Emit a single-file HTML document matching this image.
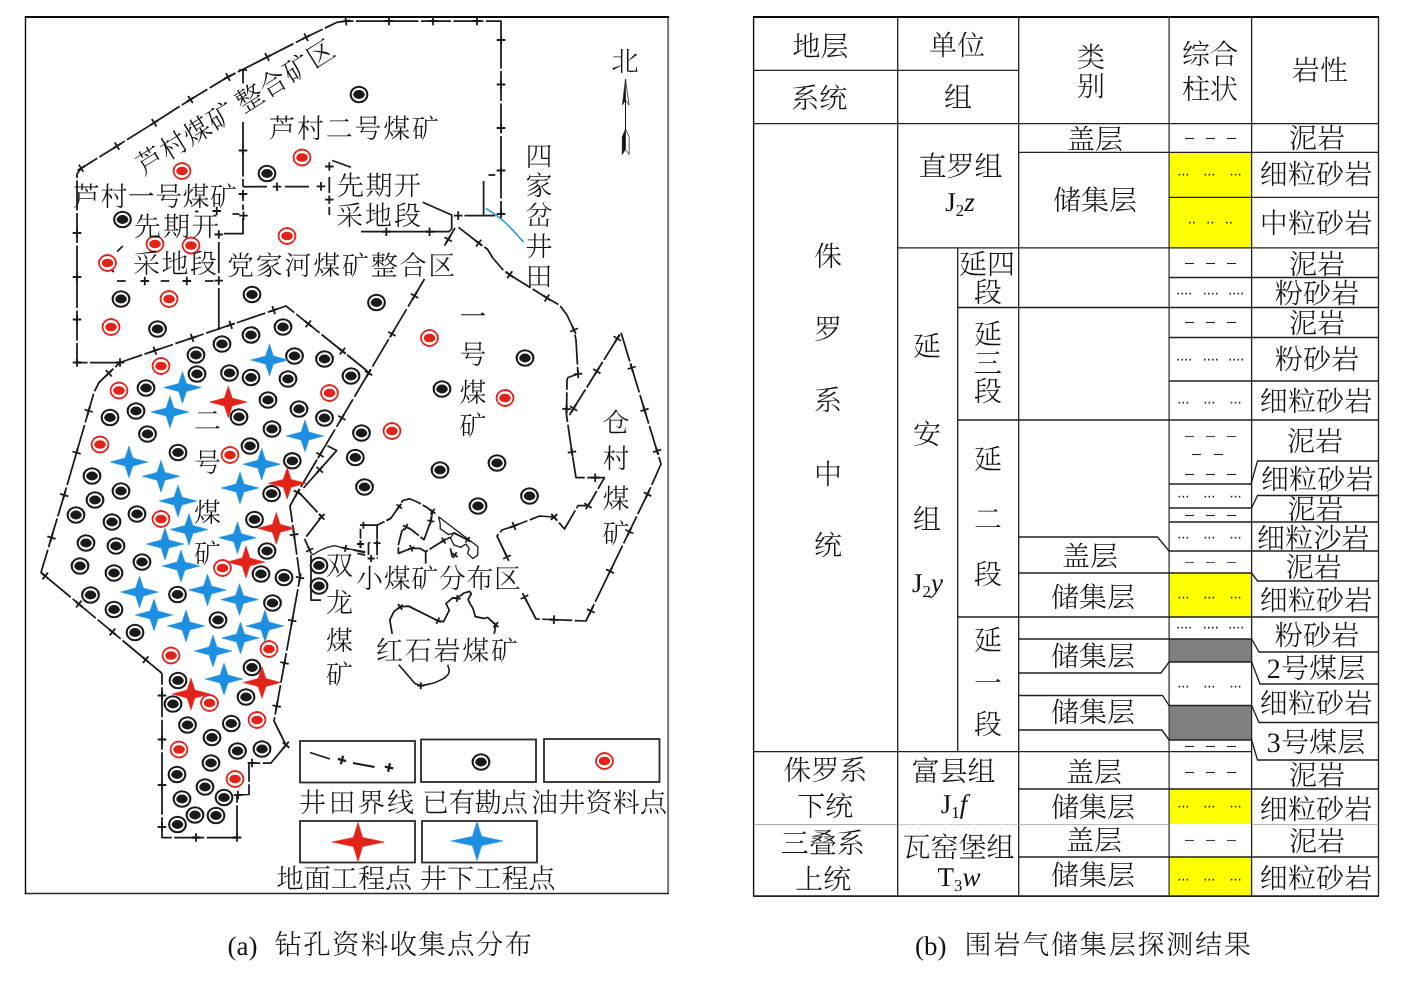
<!DOCTYPE html>
<html><head><meta charset="utf-8"><title>fig</title>
<style>
html,body{margin:0;padding:0;background:#fff;}
svg{display:block;will-change:transform;}
text{font-family:"Liberation Serif","Noto Serif CJK SC",serif;fill:#111;font-weight:300;text-rendering:geometricPrecision;}
</style></head><body>
<svg width="1406" height="981" viewBox="0 0 1406 981">
<rect width="1406" height="981" fill="#fff"/>
<path d="M668.1 16 L668.1 894.2" fill="none" stroke="#777" stroke-width="2"/>
<path d="M24.8 893.5 L669.1 893.5" fill="none" stroke="#2a2a2a" stroke-width="1.5"/>
<path d="M25.5 894.2 L25.5 16" fill="none" stroke="#0a0a0a" stroke-width="1.4"/>
<path d="M24.8 17 L669.1 17" fill="none" stroke="#0a0a0a" stroke-width="2.2"/>
<path d="M120.0 362.5 L77.0 362.5 L77.0 174.0 L81.0 168.4 L117.2 145.9 L154.1 122.8 L190.6 99.4 L227.7 77.1 L266.8 57.2 L306.0 37.3 L337.0 22.3 L346.0 21.0 L501.0 21.0 L501.0 215.0" fill="none" stroke="#1a1a1a" stroke-width="1.75" stroke-dasharray="30 2.5" stroke-linejoin="round" />
<path d="M120.0 366.8 L120.0 358.2 M124.3 362.5 L115.7 362.5" stroke="#1a1a1a" stroke-width="1.8" fill="none"/>
<path d="M77.0 366.8 L77.0 358.2 M81.3 362.5 L72.7 362.5" stroke="#1a1a1a" stroke-width="1.8" fill="none"/>
<path d="M72.7 319.5 L81.3 319.5 M77.0 323.8 L77.0 315.2" stroke="#1a1a1a" stroke-width="1.8" fill="none"/>
<path d="M72.7 277.0 L81.3 277.0 M77.0 281.3 L77.0 272.7" stroke="#1a1a1a" stroke-width="1.8" fill="none"/>
<path d="M72.7 233.0 L81.3 233.0 M77.0 237.3 L77.0 228.7" stroke="#1a1a1a" stroke-width="1.8" fill="none"/>
<path d="M78.9 164.6 L83.4 171.9 M77.5 170.6 L84.8 166.0" stroke="#1a1a1a" stroke-width="1.8" fill="none"/>
<path d="M114.7 142.4 L119.3 149.7 M113.4 148.3 L120.7 143.7" stroke="#1a1a1a" stroke-width="1.8" fill="none"/>
<path d="M151.8 119.1 L156.5 126.4 M150.5 125.1 L157.8 120.4" stroke="#1a1a1a" stroke-width="1.8" fill="none"/>
<path d="M188.1 95.9 L192.8 103.1 M186.8 101.8 L194.1 97.2" stroke="#1a1a1a" stroke-width="1.8" fill="none"/>
<path d="M226.0 73.1 L229.9 80.8 M224.1 78.9 L231.8 75.0" stroke="#1a1a1a" stroke-width="1.8" fill="none"/>
<path d="M265.1 53.2 L269.0 60.9 M263.2 59.0 L270.9 55.1" stroke="#1a1a1a" stroke-width="1.8" fill="none"/>
<path d="M304.2 33.4 L308.0 41.1 M302.2 39.1 L310.0 35.4" stroke="#1a1a1a" stroke-width="1.8" fill="none"/>
<path d="M345.3 16.8 L346.5 25.3 M341.7 21.6 L350.2 20.4" stroke="#1a1a1a" stroke-width="1.8" fill="none"/>
<path d="M389.0 16.7 L389.0 25.3 M384.7 21.0 L393.3 21.0" stroke="#1a1a1a" stroke-width="1.8" fill="none"/>
<path d="M433.0 16.7 L433.0 25.3 M428.7 21.0 L437.3 21.0" stroke="#1a1a1a" stroke-width="1.8" fill="none"/>
<path d="M477.0 16.7 L477.0 25.3 M472.7 21.0 L481.3 21.0" stroke="#1a1a1a" stroke-width="1.8" fill="none"/>
<path d="M505.3 40.0 L496.7 40.0 M501.0 35.7 L501.0 44.3" stroke="#1a1a1a" stroke-width="1.8" fill="none"/>
<path d="M505.3 84.5 L496.7 84.5 M501.0 80.2 L501.0 88.8" stroke="#1a1a1a" stroke-width="1.8" fill="none"/>
<path d="M505.3 128.0 L496.7 128.0 M501.0 123.7 L501.0 132.3" stroke="#1a1a1a" stroke-width="1.8" fill="none"/>
<path d="M505.3 170.5 L496.7 170.5 M501.0 166.2 L501.0 174.8" stroke="#1a1a1a" stroke-width="1.8" fill="none"/>
<path d="M505.3 214.0 L496.7 214.0 M501.0 209.7 L501.0 218.3" stroke="#1a1a1a" stroke-width="1.8" fill="none"/>
<path d="M243.0 70.0 L243.0 83.5" fill="none" stroke="#1a1a1a" stroke-width="1.75" stroke-linejoin="round" />
<path d="M243.0 122.0 L243.0 186.7" fill="none" stroke="#1a1a1a" stroke-width="1.75" stroke-dasharray="26 2.5" stroke-linejoin="round" />
<path d="M239.0 70.0 L247.0 70.0" fill="none" stroke="#1a1a1a" stroke-width="1.75" stroke-linejoin="round" />
<path d="M243.0 191.0 L243.0 201.0" fill="none" stroke="#1a1a1a" stroke-width="1.75" stroke-linejoin="round" />
<path d="M243.0 204.5 L243.0 210.0" fill="none" stroke="#1a1a1a" stroke-width="1.75" stroke-linejoin="round" />
<path d="M243.0 218.0 L243.0 233.6 L224.0 233.6" fill="none" stroke="#1a1a1a" stroke-width="1.75" stroke-linejoin="round" />
<path d="M243.0 146.2 L243.0 154.8 M238.7 150.5 L247.3 150.5" stroke="#1a1a1a" stroke-width="1.8" fill="none"/>
<path d="M243.0 189.7 L243.0 198.3 M238.7 194.0 L247.3 194.0" stroke="#1a1a1a" stroke-width="1.8" fill="none"/>
<path d="M243.5 211.4 L243.5 220.0 M239.2 215.7 L247.8 215.7" stroke="#1a1a1a" stroke-width="1.8" fill="none"/>
<path d="M243.0 186.7 L325.0 186.7" fill="none" stroke="#1a1a1a" stroke-width="1.75" stroke-dasharray="24 18" stroke-linejoin="round" />
<path d="M277.0 182.4 L277.0 191.0 M272.7 186.7 L281.3 186.7" stroke="#1a1a1a" stroke-width="1.8" fill="none"/>
<path d="M321.0 182.1 L321.0 190.7 M316.7 186.4 L325.3 186.4" stroke="#1a1a1a" stroke-width="1.8" fill="none"/>
<path d="M232.4 214.0 L239.5 214.0" fill="none" stroke="#1a1a1a" stroke-width="1.75" stroke-linejoin="round" />
<path d="M195.0 211.5 L198.5 211.5" fill="none" stroke="#1a1a1a" stroke-width="1.75" stroke-linejoin="round" />
<path d="M216.7 206.7 L216.7 215.3 M212.4 211.0 L221.0 211.0" stroke="#1a1a1a" stroke-width="1.8" fill="none"/>
<path d="M218.8 242.0 L218.8 273.0" fill="none" stroke="#1a1a1a" stroke-width="1.75" stroke-linejoin="round" />
<path d="M218.8 288.0 L218.8 330.0" fill="none" stroke="#1a1a1a" stroke-width="1.75" stroke-linejoin="round" />
<path d="M218.8 230.2 L218.8 238.8 M214.5 234.5 L223.1 234.5" stroke="#1a1a1a" stroke-width="1.8" fill="none"/>
<path d="M218.8 276.3 L218.8 284.9 M214.5 280.6 L223.1 280.6" stroke="#1a1a1a" stroke-width="1.8" fill="none"/>
<path d="M117.0 281.0 L125.7 281.0" fill="none" stroke="#1a1a1a" stroke-width="1.75" stroke-linejoin="round" />
<path d="M160.7 281.0 L169.3 281.0" fill="none" stroke="#1a1a1a" stroke-width="1.75" stroke-linejoin="round" />
<path d="M205.0 281.0 L213.6 281.0" fill="none" stroke="#1a1a1a" stroke-width="1.75" stroke-linejoin="round" />
<path d="M144.8 276.7 L144.8 285.3 M140.5 281.0 L149.1 281.0" stroke="#1a1a1a" stroke-width="1.8" fill="none"/>
<path d="M186.8 276.7 L186.8 285.3 M182.5 281.0 L191.1 281.0" stroke="#1a1a1a" stroke-width="1.8" fill="none"/>
<path d="M117.2 251.6 L122.8 246.0" fill="none" stroke="#1a1a1a" stroke-width="1.75" stroke-linejoin="round" />
<path d="M111.2 269.5 L113.8 272.0" fill="none" stroke="#1a1a1a" stroke-width="1.75" stroke-linejoin="round" />
<path d="M329.3 177.0 L329.3 193.0" fill="none" stroke="#1a1a1a" stroke-width="1.75" stroke-linejoin="round" />
<path d="M329.3 207.0 L329.3 215.0" fill="none" stroke="#1a1a1a" stroke-width="1.75" stroke-linejoin="round" />
<path d="M329.3 162.2 L329.3 170.8 M325.0 166.5 L333.6 166.5" stroke="#1a1a1a" stroke-width="1.8" fill="none"/>
<path d="M329.3 195.4 L329.3 204.0 M325.0 199.7 L333.6 199.7" stroke="#1a1a1a" stroke-width="1.8" fill="none"/>
<path d="M332.2 160.5 L351.0 167.3" fill="none" stroke="#1a1a1a" stroke-width="1.75" stroke-linejoin="round" />
<path d="M422.7 202.3 L451.7 215.0 L451.7 229.0 L449.0 231.7 L361.0 231.7" fill="none" stroke="#1a1a1a" stroke-width="1.75" stroke-linejoin="round" />
<path d="M386.3 227.4 L386.3 236.0 M382.0 231.7 L390.6 231.7" stroke="#1a1a1a" stroke-width="1.8" fill="none"/>
<path d="M429.5 227.4 L429.5 236.0 M425.2 231.7 L433.8 231.7" stroke="#1a1a1a" stroke-width="1.8" fill="none"/>
<path d="M464.5 215.6 L495.2 215.6" fill="none" stroke="#1a1a1a" stroke-width="1.75" stroke-linejoin="round" />
<path d="M458.2 211.3 L458.2 219.9 M453.9 215.6 L462.5 215.6" stroke="#1a1a1a" stroke-width="1.8" fill="none"/>
<path d="M483.6 181.0 L483.6 215.6" fill="none" stroke="#1a1a1a" stroke-width="1.75" stroke-linejoin="round" />
<path d="M488.4 175.0 L495.2 175.0" fill="none" stroke="#1a1a1a" stroke-width="1.75" stroke-linejoin="round" />
<path d="M485.8 208.3 Q497 215 504.6 222 T523.4 242" fill="none" stroke="#1c8fe0" stroke-width="1.4"/>
<path d="M458.5 227.4 L479.0 243.3 L487.5 249.3 L492.7 257.8 L502.9 269.7 L510.0 274.9 L547.0 298.0 L559.5 305.0 L567.0 315.0 L574.0 330.0 L576.0 340.0 L578.0 374.0 L568.0 377.5 L567.0 380.0 L566.5 415.0 L572.0 452.5 L576.0 477.7 L604.4 477.7 L591.0 501.0 L588.0 505.6 L578.0 505.6 L564.5 529.0 L554.0 517.0 L539.5 516.0 L514.0 526.0 L502.0 530.0 L497.0 536.0 L507.0 557.0" fill="none" stroke="#1a1a1a" stroke-width="1.75" stroke-dasharray="30 2.5" stroke-linejoin="round" />
<path d="M481.3 239.7 L476.0 246.5 M475.3 240.4 L482.1 245.7" stroke="#1a1a1a" stroke-width="1.8" fill="none"/>
<path d="M512.3 271.2 L507.2 278.2 M506.3 272.2 L513.2 277.2" stroke="#1a1a1a" stroke-width="1.8" fill="none"/>
<path d="M549.3 294.4 L544.7 301.6 M543.4 295.7 L550.6 300.3" stroke="#1a1a1a" stroke-width="1.8" fill="none"/>
<path d="M577.9 328.2 L570.1 331.8 M572.2 326.1 L575.8 333.9" stroke="#1a1a1a" stroke-width="1.8" fill="none"/>
<path d="M582.3 373.7 L573.7 374.3 M577.7 369.7 L578.3 378.3" stroke="#1a1a1a" stroke-width="1.8" fill="none"/>
<path d="M570.9 409.1 L562.3 408.9 M566.6 404.7 L566.5 413.3" stroke="#1a1a1a" stroke-width="1.8" fill="none"/>
<path d="M576.2 451.4 L567.7 452.6 M571.3 447.8 L572.6 456.3" stroke="#1a1a1a" stroke-width="1.8" fill="none"/>
<path d="M595.2 473.4 L595.2 482.0 M590.9 477.7 L599.5 477.7" stroke="#1a1a1a" stroke-width="1.8" fill="none"/>
<path d="M591.6 507.9 L584.4 503.3 M590.3 502.0 L585.7 509.2" stroke="#1a1a1a" stroke-width="1.8" fill="none"/>
<path d="M550.8 519.8 L557.2 514.2 M556.8 520.2 L551.2 513.8" stroke="#1a1a1a" stroke-width="1.8" fill="none"/>
<path d="M515.6 530.0 L512.4 522.0 M518.0 524.4 L510.0 527.6" stroke="#1a1a1a" stroke-width="1.8" fill="none"/>
<path d="M510.9 555.2 L503.1 558.8 M505.2 553.1 L508.8 560.9" stroke="#1a1a1a" stroke-width="1.8" fill="none"/>
<path d="M455.0 228.0 L444.5 245.6" fill="none" stroke="#1a1a1a" stroke-width="1.75" stroke-linejoin="round" />
<path d="M424.5 279.0 L297.5 492.5" fill="none" stroke="#1a1a1a" stroke-width="1.75" stroke-dasharray="32 3" stroke-linejoin="round" />
<path d="M451.9 241.6 L444.5 237.2 M450.4 235.7 L446.0 243.1" stroke="#1a1a1a" stroke-width="1.8" fill="none"/>
<path d="M418.3 298.1 L410.9 293.7 M416.8 292.2 L412.4 299.6" stroke="#1a1a1a" stroke-width="1.8" fill="none"/>
<path d="M395.6 336.1 L388.3 331.7 M394.2 330.2 L389.8 337.6" stroke="#1a1a1a" stroke-width="1.8" fill="none"/>
<path d="M372.3 375.3 L364.9 370.9 M370.8 369.5 L366.4 376.8" stroke="#1a1a1a" stroke-width="1.8" fill="none"/>
<path d="M345.6 420.1 L338.2 415.7 M344.1 414.2 L339.7 421.6" stroke="#1a1a1a" stroke-width="1.8" fill="none"/>
<path d="M327.4 445.7 L336.6 450.6 L303.5 488.0" fill="none" stroke="#1a1a1a" stroke-width="1.75" stroke-linejoin="round" />
<path d="M323.7 456.9 L316.3 452.5 M322.2 451.0 L317.8 458.4" stroke="#1a1a1a" stroke-width="1.8" fill="none"/>
<path d="M322.9 472.6 L316.5 466.9 M322.5 466.5 L316.8 472.9" stroke="#1a1a1a" stroke-width="1.8" fill="none"/>
<path d="M370.0 374.0 L366.0 370.0 L286.0 306.0 L120.0 362.5 L99.0 382.5 L94.0 392.5 L66.0 489.0 L41.0 572.5 L161.0 672.5 L162.0 674.0 L162.0 837.5 L237.0 837.5 L237.0 795.0 L249.0 794.5 L249.0 763.0 L271.0 763.0 L286.0 745.0 L281.0 735.0 L274.0 721.0 L300.0 577.5 L290.0 506.0 L297.5 492.5" fill="none" stroke="#1a1a1a" stroke-width="1.75" stroke-dasharray="30 2.5" stroke-linejoin="round" />
<path d="M275.1 314.3 L272.3 306.1 M277.8 308.8 L269.7 311.6" stroke="#1a1a1a" stroke-width="1.8" fill="none"/>
<path d="M232.1 328.9 L229.4 320.7 M234.8 323.4 L226.7 326.2" stroke="#1a1a1a" stroke-width="1.8" fill="none"/>
<path d="M193.5 342.0 L190.8 333.9 M196.2 336.6 L188.1 339.3" stroke="#1a1a1a" stroke-width="1.8" fill="none"/>
<path d="M156.3 354.7 L153.5 346.6 M158.9 349.2 L150.8 352.0" stroke="#1a1a1a" stroke-width="1.8" fill="none"/>
<path d="M111.7 376.3 L105.8 370.1 M111.9 370.2 L105.7 376.2" stroke="#1a1a1a" stroke-width="1.8" fill="none"/>
<path d="M92.8 412.0 L84.6 409.6 M89.9 406.6 L87.5 414.9" stroke="#1a1a1a" stroke-width="1.8" fill="none"/>
<path d="M80.7 453.9 L72.4 451.5 M77.7 448.5 L75.3 456.8" stroke="#1a1a1a" stroke-width="1.8" fill="none"/>
<path d="M68.3 496.3 L60.1 493.8 M65.4 490.9 L63.0 499.2" stroke="#1a1a1a" stroke-width="1.8" fill="none"/>
<path d="M55.6 538.9 L47.3 536.4 M52.7 533.5 L50.2 541.8" stroke="#1a1a1a" stroke-width="1.8" fill="none"/>
<path d="M48.0 572.7 L42.5 579.3 M41.9 573.3 L48.5 578.8" stroke="#1a1a1a" stroke-width="1.8" fill="none"/>
<path d="M81.6 600.7 L76.1 607.3 M75.5 601.3 L82.1 606.8" stroke="#1a1a1a" stroke-width="1.8" fill="none"/>
<path d="M115.2 628.7 L109.7 635.3 M109.1 629.3 L115.7 634.8" stroke="#1a1a1a" stroke-width="1.8" fill="none"/>
<path d="M148.4 656.4 L142.9 663.0 M142.4 657.0 L149.0 662.5" stroke="#1a1a1a" stroke-width="1.8" fill="none"/>
<path d="M166.3 695.5 L157.7 695.5 M162.0 691.2 L162.0 699.8" stroke="#1a1a1a" stroke-width="1.8" fill="none"/>
<path d="M166.3 739.5 L157.7 739.5 M162.0 735.2 L162.0 743.8" stroke="#1a1a1a" stroke-width="1.8" fill="none"/>
<path d="M166.3 785.0 L157.7 785.0 M162.0 780.7 L162.0 789.3" stroke="#1a1a1a" stroke-width="1.8" fill="none"/>
<path d="M166.3 827.0 L157.7 827.0 M162.0 822.7 L162.0 831.3" stroke="#1a1a1a" stroke-width="1.8" fill="none"/>
<path d="M196.0 833.2 L196.0 841.8 M191.7 837.5 L200.3 837.5" stroke="#1a1a1a" stroke-width="1.8" fill="none"/>
<path d="M237.0 833.2 L237.0 841.8 M232.7 837.5 L241.3 837.5" stroke="#1a1a1a" stroke-width="1.8" fill="none"/>
<path d="M237.8 790.7 L238.2 799.3 M233.7 795.1 L242.3 794.8" stroke="#1a1a1a" stroke-width="1.8" fill="none"/>
<path d="M252.0 758.7 L252.0 767.3 M247.7 763.0 L256.3 763.0" stroke="#1a1a1a" stroke-width="1.8" fill="none"/>
<path d="M282.7 742.2 L289.3 747.8 M283.2 748.3 L288.8 741.7" stroke="#1a1a1a" stroke-width="1.8" fill="none"/>
<path d="M272.5 705.4 L280.9 706.9 M275.9 710.4 L277.5 701.9" stroke="#1a1a1a" stroke-width="1.8" fill="none"/>
<path d="M280.3 662.2 L288.7 663.8 M283.7 667.2 L285.3 658.8" stroke="#1a1a1a" stroke-width="1.8" fill="none"/>
<path d="M288.0 619.8 L296.4 621.3 M291.4 624.8 L293.0 616.3" stroke="#1a1a1a" stroke-width="1.8" fill="none"/>
<path d="M295.8 576.8 L304.2 578.4 M299.2 581.8 L300.8 573.4" stroke="#1a1a1a" stroke-width="1.8" fill="none"/>
<path d="M289.7 535.2 L298.3 534.0 M294.6 538.8 L293.4 530.3" stroke="#1a1a1a" stroke-width="1.8" fill="none"/>
<path d="M293.7 490.4 L301.3 494.6 M295.4 496.3 L299.6 488.7" stroke="#1a1a1a" stroke-width="1.8" fill="none"/>
<path d="M305.6 327.2 L311.0 320.5 M311.7 326.5 L305.0 321.2" stroke="#1a1a1a" stroke-width="1.8" fill="none"/>
<path d="M339.7 354.5 L345.1 347.8 M345.8 353.8 L339.0 348.4" stroke="#1a1a1a" stroke-width="1.8" fill="none"/>
<path d="M298.5 491.9 L321.6 516.7 L304.5 538.9 L309.6 550.0" fill="none" stroke="#1a1a1a" stroke-width="1.75" stroke-dasharray="28 3" stroke-linejoin="round" />
<path d="M324.5 514.0 L318.7 519.4 M318.9 513.8 L324.3 519.6" stroke="#1a1a1a" stroke-width="1.8" fill="none"/>
<path d="M313.3 548.3 L306.0 551.7 M308.0 546.4 L311.3 553.6" stroke="#1a1a1a" stroke-width="1.8" fill="none"/>
<path d="M311.0 555.0 L311.0 600.0 L321.0 600.0" fill="none" stroke="#1a1a1a" stroke-width="1.75" stroke-linejoin="round" />
<path d="M311.3 554.3 L313.9 554.3 Q324.1 547.4 334.4 545.7 L345.5 548.3 L365.1 551.7" fill="none" stroke="#1a1a1a" stroke-width="1.3"/>
<path d="M346.2 544.9 L344.8 551.7 M342.0 547.6 L348.9 549.0" stroke="#1a1a1a" stroke-width="1.8" fill="none"/>
<path d="M569.5 415.0 L621.0 332.5 L661.0 464.0 L649.5 490.0 L586.0 621.0 L536.0 619.0 L524.5 597.0" fill="none" stroke="#1a1a1a" stroke-width="1.75" stroke-dasharray="30 2.5" stroke-linejoin="round" />
<path d="M613.6 336.2 L620.9 340.8 M615.0 342.1 L619.5 334.8" stroke="#1a1a1a" stroke-width="1.8" fill="none"/>
<path d="M593.2 368.9 L600.5 373.5 M594.6 374.9 L599.1 367.6" stroke="#1a1a1a" stroke-width="1.8" fill="none"/>
<path d="M569.9 406.2 L577.2 410.7 M571.3 412.1 L575.9 404.8" stroke="#1a1a1a" stroke-width="1.8" fill="none"/>
<path d="M635.8 366.5 L627.6 369.0 M630.5 363.6 L633.0 371.9" stroke="#1a1a1a" stroke-width="1.8" fill="none"/>
<path d="M648.7 408.7 L640.5 411.2 M643.3 405.9 L645.8 414.1" stroke="#1a1a1a" stroke-width="1.8" fill="none"/>
<path d="M661.2 449.7 L652.9 452.2 M655.8 446.9 L658.3 455.1" stroke="#1a1a1a" stroke-width="1.8" fill="none"/>
<path d="M651.3 496.1 L643.6 492.3 M649.3 490.4 L645.6 498.1" stroke="#1a1a1a" stroke-width="1.8" fill="none"/>
<path d="M633.2 533.5 L625.4 529.8 M631.2 527.8 L627.4 535.5" stroke="#1a1a1a" stroke-width="1.8" fill="none"/>
<path d="M614.0 573.2 L606.2 569.4 M612.0 567.4 L608.2 575.2" stroke="#1a1a1a" stroke-width="1.8" fill="none"/>
<path d="M594.7 612.8 L587.0 609.1 M592.8 607.1 L589.0 614.8" stroke="#1a1a1a" stroke-width="1.8" fill="none"/>
<path d="M553.8 624.0 L554.2 615.4 M558.3 619.9 L549.7 619.5" stroke="#1a1a1a" stroke-width="1.8" fill="none"/>
<path d="M520.7 599.0 L528.3 595.0 M526.5 600.8 L522.5 593.2" stroke="#1a1a1a" stroke-width="1.8" fill="none"/>
<path d="M363.4 525.2 L377.1 525.2 L390.7 518.4 L396.7 509.9 L399.3 506.5 L402.7 500.5 L409.5 498.8 L418.0 502.2 L426.6 507.3 L432.5 511.6 L430.8 521.0 L424.0 539.7 L411.2 529.5 L406.1 526.9" fill="none" stroke="#1a1a1a" stroke-width="1.75" stroke-dasharray="22 2" stroke-linejoin="round" />
<path d="M363.4 521.7 L363.4 528.7 M359.9 525.2 L366.9 525.2" stroke="#1a1a1a" stroke-width="1.8" fill="none"/>
<path d="M396.5 504.4 L402.1 508.6 M397.2 509.3 L401.4 503.7" stroke="#1a1a1a" stroke-width="1.8" fill="none"/>
<path d="M434.6 508.7 L430.5 514.4 M429.7 509.5 L435.4 513.6" stroke="#1a1a1a" stroke-width="1.8" fill="none"/>
<path d="M434.3 521.6 L427.4 520.3 M431.5 517.5 L430.2 524.4" stroke="#1a1a1a" stroke-width="1.8" fill="none"/>
<path d="M404.5 530.1 L407.6 523.8 M409.2 528.5 L403.0 525.4" stroke="#1a1a1a" stroke-width="1.8" fill="none"/>
<path d="M404.4 528.7 L401.8 531.2 L398.4 544.9 L398.4 553.4 L411.2 548.3 L419.7 548.3 L425.7 551.7 L443.6 540.6 L450.5 537.2" fill="none" stroke="#1a1a1a" stroke-width="1.75" stroke-dasharray="18 2" stroke-linejoin="round" />
<path d="M409.9 545.0 L412.5 551.5 M408.0 549.6 L414.5 547.0" stroke="#1a1a1a" stroke-width="1.8" fill="none"/>
<path d="M441.8 537.6 L445.5 543.6 M440.7 542.4 L446.6 538.8" stroke="#1a1a1a" stroke-width="1.8" fill="none"/>
<path d="M425.7 551.7 L425.7 563.6" fill="none" stroke="#1a1a1a" stroke-width="1.75" stroke-linejoin="round" />
<path d="M360.5 528.7 L360.5 548.3" fill="none" stroke="#1a1a1a" stroke-width="1.75" stroke-dasharray="10 2" stroke-linejoin="round" />
<path d="M360.5 540.5 L360.5 547.5 M357.0 544.0 L364.0 544.0" stroke="#1a1a1a" stroke-width="1.8" fill="none"/>
<path d="M377.1 525.2 L377.1 558.5" fill="none" stroke="#1a1a1a" stroke-width="1.75" stroke-dasharray="14 2" stroke-linejoin="round" />
<path d="M377.1 539.7 L377.1 546.7 M373.6 543.2 L380.6 543.2" stroke="#1a1a1a" stroke-width="1.8" fill="none"/>
<path d="M371.1 555.0 L371.1 562.0 M367.6 558.5 L374.6 558.5" stroke="#1a1a1a" stroke-width="1.8" fill="none"/>
<path d="M370.2 542.3 L368.5 543.2 L368.5 555.1" fill="none" stroke="#1a1a1a" stroke-width="1.75" stroke-linejoin="round" />
<path d="M353.2 550.0 L365.1 552.6" fill="none" stroke="#1a1a1a" stroke-width="1.75" stroke-linejoin="round" />
<path d="M357.4 553.4 L365.1 555.1" fill="none" stroke="#1a1a1a" stroke-width="1.75" stroke-linejoin="round" />
<path d="M438.5 516.7 L477.8 546.6 L477.8 555.1 L472.7 558.5 L467.5 553.4 L469.2 548.3 L465.8 544.0 L460.7 547.4 L453.9 544.9 L450.5 538.0 L453.9 532.9 L448.8 534.6 L440.2 528.7 L440.2 523.5 L438.5 516.7" fill="none" stroke="#1a1a1a" stroke-width="1.3" stroke-linejoin="round" />
<path d="M453.9 532.9 L467.5 539.7" fill="none" stroke="#1a1a1a" stroke-width="1.75" stroke-linejoin="round" />
<path d="M469.7 537.0 L465.4 542.5 M464.7 537.6 L470.3 541.9" stroke="#1a1a1a" stroke-width="1.8" fill="none"/>
<path d="M450.5 548.3 L452.2 556.8" fill="none" stroke="#1a1a1a" stroke-width="1.75" stroke-linejoin="round" />
<path d="M456.7 552.2 L452.8 558.0 M451.8 553.1 L457.6 557.1" stroke="#1a1a1a" stroke-width="1.8" fill="none"/>
<path d="M392.2 633.8 L389.8 619.9 L393.8 611.8 L400.0 606.9 L408.5 606.1 L437.9 620.8 L443.6 621.6 L449.3 610.1 L446.0 603.6 L452.6 597.9 L457.1 598.4 L464.0 593.0 L469.7 591.4 L471.3 593.8 L468.1 599.5 L470.5 604.4 L473.0 608.5 L475.4 616.7 L483.6 618.3 L487.6 617.5 L495.8 624.8 L494.2 633.8" fill="none" stroke="#1a1a1a" stroke-width="1.75" stroke-linejoin="round" />
<path d="M397.9 604.1 L402.2 609.6 M397.3 609.1 L402.8 604.7" stroke="#1a1a1a" stroke-width="1.8" fill="none"/>
<path d="M439.4 617.6 L436.3 623.9 M434.7 619.2 L441.0 622.3" stroke="#1a1a1a" stroke-width="1.8" fill="none"/>
<path d="M457.5 594.9 L456.8 601.9 M453.6 598.0 L460.6 598.8" stroke="#1a1a1a" stroke-width="1.8" fill="none"/>
<path d="M498.1 622.2 L493.4 627.4 M493.2 622.5 L498.4 627.2" stroke="#1a1a1a" stroke-width="1.8" fill="none"/>
<path d="M398.7 664.8 L415 683.6 L420.8 685.7 L428 684.4 C438 682.5 449.5 677 449.3 670.5 L447.7 664.8" fill="none" stroke="#1a1a1a" stroke-width="1.6"/>
<path d="M420.8 682.2 L420.8 689.2 M417.3 685.7 L424.3 685.7" stroke="#1a1a1a" stroke-width="1.8" fill="none"/>
<path d="M625.5 100 L625.5 130" stroke="#111" stroke-width="1"/>
<path d="M625.5 79 L622.4 105 L625.5 100 Z" fill="#111" stroke="#111" stroke-width="0.6"/>
<path d="M625.5 79 L629 105 L625.5 100 Z" fill="#fff" stroke="#111" stroke-width="0.7"/>
<path d="M625.5 129 L622.2 137 L622.2 154.5 L625.5 149.5 Z" fill="#111" stroke="#111" stroke-width="0.6"/>
<path d="M625.5 129 L629.2 137 L629.2 154.5 L625.5 149.5 Z" fill="#fff" stroke="#111" stroke-width="0.7"/>
<text x="625.0" y="70.7" font-size="27.5" text-anchor="middle" >北</text>
<ellipse cx="182.0" cy="171.0" rx="8.5" ry="8.0" fill="#fff" stroke="#e2231a" stroke-width="1.8"/><ellipse cx="182.0" cy="171.0" rx="5.8" ry="4.3" fill="#e2231a"/>
<ellipse cx="302.0" cy="157.5" rx="8.5" ry="8.0" fill="#fff" stroke="#e2231a" stroke-width="1.8"/><ellipse cx="302.0" cy="157.5" rx="5.8" ry="4.3" fill="#e2231a"/>
<ellipse cx="155.0" cy="244.0" rx="8.5" ry="8.0" fill="#fff" stroke="#e2231a" stroke-width="1.8"/><ellipse cx="155.0" cy="244.0" rx="5.8" ry="4.3" fill="#e2231a"/>
<ellipse cx="191.0" cy="245.5" rx="8.5" ry="8.0" fill="#fff" stroke="#e2231a" stroke-width="1.8"/><ellipse cx="191.0" cy="245.5" rx="5.8" ry="4.3" fill="#e2231a"/>
<ellipse cx="287.0" cy="236.0" rx="8.5" ry="8.0" fill="#fff" stroke="#e2231a" stroke-width="1.8"/><ellipse cx="287.0" cy="236.0" rx="5.8" ry="4.3" fill="#e2231a"/>
<ellipse cx="107.5" cy="263.0" rx="8.5" ry="8.0" fill="#fff" stroke="#e2231a" stroke-width="1.8"/><ellipse cx="107.5" cy="263.0" rx="5.8" ry="4.3" fill="#e2231a"/>
<ellipse cx="169.0" cy="299.0" rx="8.5" ry="8.0" fill="#fff" stroke="#e2231a" stroke-width="1.8"/><ellipse cx="169.0" cy="299.0" rx="5.8" ry="4.3" fill="#e2231a"/>
<ellipse cx="111.0" cy="327.0" rx="8.5" ry="8.0" fill="#fff" stroke="#e2231a" stroke-width="1.8"/><ellipse cx="111.0" cy="327.0" rx="5.8" ry="4.3" fill="#e2231a"/>
<ellipse cx="161.0" cy="366.0" rx="8.5" ry="8.0" fill="#fff" stroke="#e2231a" stroke-width="1.8"/><ellipse cx="161.0" cy="366.0" rx="5.8" ry="4.3" fill="#e2231a"/>
<ellipse cx="119.0" cy="390.5" rx="8.5" ry="8.0" fill="#fff" stroke="#e2231a" stroke-width="1.8"/><ellipse cx="119.0" cy="390.5" rx="5.8" ry="4.3" fill="#e2231a"/>
<ellipse cx="100.0" cy="444.5" rx="8.5" ry="8.0" fill="#fff" stroke="#e2231a" stroke-width="1.8"/><ellipse cx="100.0" cy="444.5" rx="5.8" ry="4.3" fill="#e2231a"/>
<ellipse cx="230.0" cy="455.0" rx="8.5" ry="8.0" fill="#fff" stroke="#e2231a" stroke-width="1.8"/><ellipse cx="230.0" cy="455.0" rx="5.8" ry="4.3" fill="#e2231a"/>
<ellipse cx="329.5" cy="393.0" rx="8.5" ry="8.0" fill="#fff" stroke="#e2231a" stroke-width="1.8"/><ellipse cx="329.5" cy="393.0" rx="5.8" ry="4.3" fill="#e2231a"/>
<ellipse cx="429.5" cy="338.0" rx="8.5" ry="8.0" fill="#fff" stroke="#e2231a" stroke-width="1.8"/><ellipse cx="429.5" cy="338.0" rx="5.8" ry="4.3" fill="#e2231a"/>
<ellipse cx="505.0" cy="398.0" rx="8.5" ry="8.0" fill="#fff" stroke="#e2231a" stroke-width="1.8"/><ellipse cx="505.0" cy="398.0" rx="5.8" ry="4.3" fill="#e2231a"/>
<ellipse cx="392.0" cy="431.0" rx="8.5" ry="8.0" fill="#fff" stroke="#e2231a" stroke-width="1.8"/><ellipse cx="392.0" cy="431.0" rx="5.8" ry="4.3" fill="#e2231a"/>
<ellipse cx="161.0" cy="519.0" rx="8.5" ry="8.0" fill="#fff" stroke="#e2231a" stroke-width="1.8"/><ellipse cx="161.0" cy="519.0" rx="5.8" ry="4.3" fill="#e2231a"/>
<ellipse cx="222.5" cy="568.0" rx="8.5" ry="8.0" fill="#fff" stroke="#e2231a" stroke-width="1.8"/><ellipse cx="222.5" cy="568.0" rx="5.8" ry="4.3" fill="#e2231a"/>
<ellipse cx="171.0" cy="655.5" rx="8.5" ry="8.0" fill="#fff" stroke="#e2231a" stroke-width="1.8"/><ellipse cx="171.0" cy="655.5" rx="5.8" ry="4.3" fill="#e2231a"/>
<ellipse cx="269.0" cy="649.0" rx="8.5" ry="8.0" fill="#fff" stroke="#e2231a" stroke-width="1.8"/><ellipse cx="269.0" cy="649.0" rx="5.8" ry="4.3" fill="#e2231a"/>
<ellipse cx="209.5" cy="703.0" rx="8.5" ry="8.0" fill="#fff" stroke="#e2231a" stroke-width="1.8"/><ellipse cx="209.5" cy="703.0" rx="5.8" ry="4.3" fill="#e2231a"/>
<ellipse cx="257.0" cy="720.0" rx="8.5" ry="8.0" fill="#fff" stroke="#e2231a" stroke-width="1.8"/><ellipse cx="257.0" cy="720.0" rx="5.8" ry="4.3" fill="#e2231a"/>
<ellipse cx="179.0" cy="749.5" rx="8.5" ry="8.0" fill="#fff" stroke="#e2231a" stroke-width="1.8"/><ellipse cx="179.0" cy="749.5" rx="5.8" ry="4.3" fill="#e2231a"/>
<ellipse cx="235.0" cy="779.0" rx="8.5" ry="8.0" fill="#fff" stroke="#e2231a" stroke-width="1.8"/><ellipse cx="235.0" cy="779.0" rx="5.8" ry="4.3" fill="#e2231a"/>
<ellipse cx="604.5" cy="761.0" rx="8.5" ry="8.0" fill="#fff" stroke="#e2231a" stroke-width="1.8"/><ellipse cx="604.5" cy="761.0" rx="5.8" ry="4.3" fill="#e2231a"/>
<ellipse cx="359.0" cy="94.5" rx="8.4" ry="7.7" fill="#fff" stroke="#1a1a1a" stroke-width="2.1"/><ellipse cx="359.0" cy="94.5" rx="5.8" ry="4.4" fill="#1a1a1a"/>
<ellipse cx="267.0" cy="173.5" rx="8.4" ry="7.7" fill="#fff" stroke="#1a1a1a" stroke-width="2.1"/><ellipse cx="267.0" cy="173.5" rx="5.8" ry="4.4" fill="#1a1a1a"/>
<ellipse cx="122.5" cy="219.5" rx="8.4" ry="7.7" fill="#fff" stroke="#1a1a1a" stroke-width="2.1"/><ellipse cx="122.5" cy="219.5" rx="5.8" ry="4.4" fill="#1a1a1a"/>
<ellipse cx="121.0" cy="299.0" rx="8.4" ry="7.7" fill="#fff" stroke="#1a1a1a" stroke-width="2.1"/><ellipse cx="121.0" cy="299.0" rx="5.8" ry="4.4" fill="#1a1a1a"/>
<ellipse cx="252.0" cy="294.5" rx="8.4" ry="7.7" fill="#fff" stroke="#1a1a1a" stroke-width="2.1"/><ellipse cx="252.0" cy="294.5" rx="5.8" ry="4.4" fill="#1a1a1a"/>
<ellipse cx="157.5" cy="329.0" rx="8.4" ry="7.7" fill="#fff" stroke="#1a1a1a" stroke-width="2.1"/><ellipse cx="157.5" cy="329.0" rx="5.8" ry="4.4" fill="#1a1a1a"/>
<ellipse cx="376.5" cy="302.5" rx="8.4" ry="7.7" fill="#fff" stroke="#1a1a1a" stroke-width="2.1"/><ellipse cx="376.5" cy="302.5" rx="5.8" ry="4.4" fill="#1a1a1a"/>
<ellipse cx="283.0" cy="327.0" rx="8.4" ry="7.7" fill="#fff" stroke="#1a1a1a" stroke-width="2.1"/><ellipse cx="283.0" cy="327.0" rx="5.8" ry="4.4" fill="#1a1a1a"/>
<ellipse cx="251.0" cy="335.0" rx="8.4" ry="7.7" fill="#fff" stroke="#1a1a1a" stroke-width="2.1"/><ellipse cx="251.0" cy="335.0" rx="5.8" ry="4.4" fill="#1a1a1a"/>
<ellipse cx="222.0" cy="344.0" rx="8.4" ry="7.7" fill="#fff" stroke="#1a1a1a" stroke-width="2.1"/><ellipse cx="222.0" cy="344.0" rx="5.8" ry="4.4" fill="#1a1a1a"/>
<ellipse cx="196.0" cy="355.0" rx="8.4" ry="7.7" fill="#fff" stroke="#1a1a1a" stroke-width="2.1"/><ellipse cx="196.0" cy="355.0" rx="5.8" ry="4.4" fill="#1a1a1a"/>
<ellipse cx="294.5" cy="356.0" rx="8.4" ry="7.7" fill="#fff" stroke="#1a1a1a" stroke-width="2.1"/><ellipse cx="294.5" cy="356.0" rx="5.8" ry="4.4" fill="#1a1a1a"/>
<ellipse cx="324.5" cy="359.0" rx="8.4" ry="7.7" fill="#fff" stroke="#1a1a1a" stroke-width="2.1"/><ellipse cx="324.5" cy="359.0" rx="5.8" ry="4.4" fill="#1a1a1a"/>
<ellipse cx="197.0" cy="374.0" rx="8.4" ry="7.7" fill="#fff" stroke="#1a1a1a" stroke-width="2.1"/><ellipse cx="197.0" cy="374.0" rx="5.8" ry="4.4" fill="#1a1a1a"/>
<ellipse cx="229.5" cy="373.0" rx="8.4" ry="7.7" fill="#fff" stroke="#1a1a1a" stroke-width="2.1"/><ellipse cx="229.5" cy="373.0" rx="5.8" ry="4.4" fill="#1a1a1a"/>
<ellipse cx="251.0" cy="377.5" rx="8.4" ry="7.7" fill="#fff" stroke="#1a1a1a" stroke-width="2.1"/><ellipse cx="251.0" cy="377.5" rx="5.8" ry="4.4" fill="#1a1a1a"/>
<ellipse cx="288.0" cy="379.0" rx="8.4" ry="7.7" fill="#fff" stroke="#1a1a1a" stroke-width="2.1"/><ellipse cx="288.0" cy="379.0" rx="5.8" ry="4.4" fill="#1a1a1a"/>
<ellipse cx="351.0" cy="376.0" rx="8.4" ry="7.7" fill="#fff" stroke="#1a1a1a" stroke-width="2.1"/><ellipse cx="351.0" cy="376.0" rx="5.8" ry="4.4" fill="#1a1a1a"/>
<ellipse cx="146.0" cy="388.0" rx="8.4" ry="7.7" fill="#fff" stroke="#1a1a1a" stroke-width="2.1"/><ellipse cx="146.0" cy="388.0" rx="5.8" ry="4.4" fill="#1a1a1a"/>
<ellipse cx="268.0" cy="400.0" rx="8.4" ry="7.7" fill="#fff" stroke="#1a1a1a" stroke-width="2.1"/><ellipse cx="268.0" cy="400.0" rx="5.8" ry="4.4" fill="#1a1a1a"/>
<ellipse cx="299.0" cy="409.0" rx="8.4" ry="7.7" fill="#fff" stroke="#1a1a1a" stroke-width="2.1"/><ellipse cx="299.0" cy="409.0" rx="5.8" ry="4.4" fill="#1a1a1a"/>
<ellipse cx="324.5" cy="418.0" rx="8.4" ry="7.7" fill="#fff" stroke="#1a1a1a" stroke-width="2.1"/><ellipse cx="324.5" cy="418.0" rx="5.8" ry="4.4" fill="#1a1a1a"/>
<ellipse cx="136.0" cy="411.0" rx="8.4" ry="7.7" fill="#fff" stroke="#1a1a1a" stroke-width="2.1"/><ellipse cx="136.0" cy="411.0" rx="5.8" ry="4.4" fill="#1a1a1a"/>
<ellipse cx="110.0" cy="417.5" rx="8.4" ry="7.7" fill="#fff" stroke="#1a1a1a" stroke-width="2.1"/><ellipse cx="110.0" cy="417.5" rx="5.8" ry="4.4" fill="#1a1a1a"/>
<ellipse cx="239.0" cy="417.0" rx="8.4" ry="7.7" fill="#fff" stroke="#1a1a1a" stroke-width="2.1"/><ellipse cx="239.0" cy="417.0" rx="5.8" ry="4.4" fill="#1a1a1a"/>
<ellipse cx="272.0" cy="429.0" rx="8.4" ry="7.7" fill="#fff" stroke="#1a1a1a" stroke-width="2.1"/><ellipse cx="272.0" cy="429.0" rx="5.8" ry="4.4" fill="#1a1a1a"/>
<ellipse cx="147.5" cy="434.0" rx="8.4" ry="7.7" fill="#fff" stroke="#1a1a1a" stroke-width="2.1"/><ellipse cx="147.5" cy="434.0" rx="5.8" ry="4.4" fill="#1a1a1a"/>
<ellipse cx="250.0" cy="446.0" rx="8.4" ry="7.7" fill="#fff" stroke="#1a1a1a" stroke-width="2.1"/><ellipse cx="250.0" cy="446.0" rx="5.8" ry="4.4" fill="#1a1a1a"/>
<ellipse cx="178.0" cy="452.5" rx="8.4" ry="7.7" fill="#fff" stroke="#1a1a1a" stroke-width="2.1"/><ellipse cx="178.0" cy="452.5" rx="5.8" ry="4.4" fill="#1a1a1a"/>
<ellipse cx="292.3" cy="460.8" rx="8.4" ry="7.7" fill="#fff" stroke="#1a1a1a" stroke-width="2.1"/><ellipse cx="292.3" cy="460.8" rx="5.8" ry="4.4" fill="#1a1a1a"/>
<ellipse cx="92.0" cy="476.0" rx="8.4" ry="7.7" fill="#fff" stroke="#1a1a1a" stroke-width="2.1"/><ellipse cx="92.0" cy="476.0" rx="5.8" ry="4.4" fill="#1a1a1a"/>
<ellipse cx="355.3" cy="457.5" rx="8.4" ry="7.7" fill="#fff" stroke="#1a1a1a" stroke-width="2.1"/><ellipse cx="355.3" cy="457.5" rx="5.8" ry="4.4" fill="#1a1a1a"/>
<ellipse cx="121.0" cy="491.0" rx="8.4" ry="7.7" fill="#fff" stroke="#1a1a1a" stroke-width="2.1"/><ellipse cx="121.0" cy="491.0" rx="5.8" ry="4.4" fill="#1a1a1a"/>
<ellipse cx="271.6" cy="493.6" rx="8.4" ry="7.7" fill="#fff" stroke="#1a1a1a" stroke-width="2.1"/><ellipse cx="271.6" cy="493.6" rx="5.8" ry="4.4" fill="#1a1a1a"/>
<ellipse cx="525.0" cy="358.0" rx="8.4" ry="7.7" fill="#fff" stroke="#1a1a1a" stroke-width="2.1"/><ellipse cx="525.0" cy="358.0" rx="5.8" ry="4.4" fill="#1a1a1a"/>
<ellipse cx="442.0" cy="389.0" rx="8.4" ry="7.7" fill="#fff" stroke="#1a1a1a" stroke-width="2.1"/><ellipse cx="442.0" cy="389.0" rx="5.8" ry="4.4" fill="#1a1a1a"/>
<ellipse cx="361.5" cy="433.0" rx="8.4" ry="7.7" fill="#fff" stroke="#1a1a1a" stroke-width="2.1"/><ellipse cx="361.5" cy="433.0" rx="5.8" ry="4.4" fill="#1a1a1a"/>
<ellipse cx="497.0" cy="463.0" rx="8.4" ry="7.7" fill="#fff" stroke="#1a1a1a" stroke-width="2.1"/><ellipse cx="497.0" cy="463.0" rx="5.8" ry="4.4" fill="#1a1a1a"/>
<ellipse cx="440.0" cy="470.0" rx="8.4" ry="7.7" fill="#fff" stroke="#1a1a1a" stroke-width="2.1"/><ellipse cx="440.0" cy="470.0" rx="5.8" ry="4.4" fill="#1a1a1a"/>
<ellipse cx="364.5" cy="487.0" rx="8.4" ry="7.7" fill="#fff" stroke="#1a1a1a" stroke-width="2.1"/><ellipse cx="364.5" cy="487.0" rx="5.8" ry="4.4" fill="#1a1a1a"/>
<ellipse cx="478.0" cy="506.0" rx="8.4" ry="7.7" fill="#fff" stroke="#1a1a1a" stroke-width="2.1"/><ellipse cx="478.0" cy="506.0" rx="5.8" ry="4.4" fill="#1a1a1a"/>
<ellipse cx="529.5" cy="496.0" rx="8.4" ry="7.7" fill="#fff" stroke="#1a1a1a" stroke-width="2.1"/><ellipse cx="529.5" cy="496.0" rx="5.8" ry="4.4" fill="#1a1a1a"/>
<ellipse cx="95.0" cy="500.0" rx="8.4" ry="7.7" fill="#fff" stroke="#1a1a1a" stroke-width="2.1"/><ellipse cx="95.0" cy="500.0" rx="5.8" ry="4.4" fill="#1a1a1a"/>
<ellipse cx="76.0" cy="515.0" rx="8.4" ry="7.7" fill="#fff" stroke="#1a1a1a" stroke-width="2.1"/><ellipse cx="76.0" cy="515.0" rx="5.8" ry="4.4" fill="#1a1a1a"/>
<ellipse cx="137.0" cy="514.0" rx="8.4" ry="7.7" fill="#fff" stroke="#1a1a1a" stroke-width="2.1"/><ellipse cx="137.0" cy="514.0" rx="5.8" ry="4.4" fill="#1a1a1a"/>
<ellipse cx="112.0" cy="522.0" rx="8.4" ry="7.7" fill="#fff" stroke="#1a1a1a" stroke-width="2.1"/><ellipse cx="112.0" cy="522.0" rx="5.8" ry="4.4" fill="#1a1a1a"/>
<ellipse cx="86.0" cy="543.0" rx="8.4" ry="7.7" fill="#fff" stroke="#1a1a1a" stroke-width="2.1"/><ellipse cx="86.0" cy="543.0" rx="5.8" ry="4.4" fill="#1a1a1a"/>
<ellipse cx="116.0" cy="546.0" rx="8.4" ry="7.7" fill="#fff" stroke="#1a1a1a" stroke-width="2.1"/><ellipse cx="116.0" cy="546.0" rx="5.8" ry="4.4" fill="#1a1a1a"/>
<ellipse cx="80.0" cy="566.0" rx="8.4" ry="7.7" fill="#fff" stroke="#1a1a1a" stroke-width="2.1"/><ellipse cx="80.0" cy="566.0" rx="5.8" ry="4.4" fill="#1a1a1a"/>
<ellipse cx="142.0" cy="562.0" rx="8.4" ry="7.7" fill="#fff" stroke="#1a1a1a" stroke-width="2.1"/><ellipse cx="142.0" cy="562.0" rx="5.8" ry="4.4" fill="#1a1a1a"/>
<ellipse cx="114.0" cy="573.0" rx="8.4" ry="7.7" fill="#fff" stroke="#1a1a1a" stroke-width="2.1"/><ellipse cx="114.0" cy="573.0" rx="5.8" ry="4.4" fill="#1a1a1a"/>
<ellipse cx="90.5" cy="595.0" rx="8.4" ry="7.7" fill="#fff" stroke="#1a1a1a" stroke-width="2.1"/><ellipse cx="90.5" cy="595.0" rx="5.8" ry="4.4" fill="#1a1a1a"/>
<ellipse cx="114.0" cy="609.5" rx="8.4" ry="7.7" fill="#fff" stroke="#1a1a1a" stroke-width="2.1"/><ellipse cx="114.0" cy="609.5" rx="5.8" ry="4.4" fill="#1a1a1a"/>
<ellipse cx="135.0" cy="632.5" rx="8.4" ry="7.7" fill="#fff" stroke="#1a1a1a" stroke-width="2.1"/><ellipse cx="135.0" cy="632.5" rx="5.8" ry="4.4" fill="#1a1a1a"/>
<ellipse cx="177.5" cy="594.5" rx="8.4" ry="7.7" fill="#fff" stroke="#1a1a1a" stroke-width="2.1"/><ellipse cx="177.5" cy="594.5" rx="5.8" ry="4.4" fill="#1a1a1a"/>
<ellipse cx="218.0" cy="620.0" rx="8.4" ry="7.7" fill="#fff" stroke="#1a1a1a" stroke-width="2.1"/><ellipse cx="218.0" cy="620.0" rx="5.8" ry="4.4" fill="#1a1a1a"/>
<ellipse cx="254.5" cy="519.5" rx="8.4" ry="7.7" fill="#fff" stroke="#1a1a1a" stroke-width="2.1"/><ellipse cx="254.5" cy="519.5" rx="5.8" ry="4.4" fill="#1a1a1a"/>
<ellipse cx="267.0" cy="551.0" rx="8.4" ry="7.7" fill="#fff" stroke="#1a1a1a" stroke-width="2.1"/><ellipse cx="267.0" cy="551.0" rx="5.8" ry="4.4" fill="#1a1a1a"/>
<ellipse cx="261.0" cy="574.0" rx="8.4" ry="7.7" fill="#fff" stroke="#1a1a1a" stroke-width="2.1"/><ellipse cx="261.0" cy="574.0" rx="5.8" ry="4.4" fill="#1a1a1a"/>
<ellipse cx="284.0" cy="577.5" rx="8.4" ry="7.7" fill="#fff" stroke="#1a1a1a" stroke-width="2.1"/><ellipse cx="284.0" cy="577.5" rx="5.8" ry="4.4" fill="#1a1a1a"/>
<ellipse cx="272.5" cy="603.0" rx="8.4" ry="7.7" fill="#fff" stroke="#1a1a1a" stroke-width="2.1"/><ellipse cx="272.5" cy="603.0" rx="5.8" ry="4.4" fill="#1a1a1a"/>
<ellipse cx="252.0" cy="667.5" rx="8.4" ry="7.7" fill="#fff" stroke="#1a1a1a" stroke-width="2.1"/><ellipse cx="252.0" cy="667.5" rx="5.8" ry="4.4" fill="#1a1a1a"/>
<ellipse cx="178.0" cy="680.5" rx="8.4" ry="7.7" fill="#fff" stroke="#1a1a1a" stroke-width="2.1"/><ellipse cx="178.0" cy="680.5" rx="5.8" ry="4.4" fill="#1a1a1a"/>
<ellipse cx="173.0" cy="704.0" rx="8.4" ry="7.7" fill="#fff" stroke="#1a1a1a" stroke-width="2.1"/><ellipse cx="173.0" cy="704.0" rx="5.8" ry="4.4" fill="#1a1a1a"/>
<ellipse cx="246.0" cy="697.0" rx="8.4" ry="7.7" fill="#fff" stroke="#1a1a1a" stroke-width="2.1"/><ellipse cx="246.0" cy="697.0" rx="5.8" ry="4.4" fill="#1a1a1a"/>
<ellipse cx="187.5" cy="725.0" rx="8.4" ry="7.7" fill="#fff" stroke="#1a1a1a" stroke-width="2.1"/><ellipse cx="187.5" cy="725.0" rx="5.8" ry="4.4" fill="#1a1a1a"/>
<ellipse cx="231.3" cy="723.5" rx="8.4" ry="7.7" fill="#fff" stroke="#1a1a1a" stroke-width="2.1"/><ellipse cx="231.3" cy="723.5" rx="5.8" ry="4.4" fill="#1a1a1a"/>
<ellipse cx="212.0" cy="737.5" rx="8.4" ry="7.7" fill="#fff" stroke="#1a1a1a" stroke-width="2.1"/><ellipse cx="212.0" cy="737.5" rx="5.8" ry="4.4" fill="#1a1a1a"/>
<ellipse cx="319.0" cy="565.5" rx="8.4" ry="7.7" fill="#fff" stroke="#1a1a1a" stroke-width="2.1"/><ellipse cx="319.0" cy="565.5" rx="5.8" ry="4.4" fill="#1a1a1a"/>
<ellipse cx="319.0" cy="586.0" rx="8.4" ry="7.7" fill="#fff" stroke="#1a1a1a" stroke-width="2.1"/><ellipse cx="319.0" cy="586.0" rx="5.8" ry="4.4" fill="#1a1a1a"/>
<ellipse cx="237.5" cy="751.0" rx="8.4" ry="7.7" fill="#fff" stroke="#1a1a1a" stroke-width="2.1"/><ellipse cx="237.5" cy="751.0" rx="5.8" ry="4.4" fill="#1a1a1a"/>
<ellipse cx="262.0" cy="749.0" rx="8.4" ry="7.7" fill="#fff" stroke="#1a1a1a" stroke-width="2.1"/><ellipse cx="262.0" cy="749.0" rx="5.8" ry="4.4" fill="#1a1a1a"/>
<ellipse cx="211.0" cy="763.0" rx="8.4" ry="7.7" fill="#fff" stroke="#1a1a1a" stroke-width="2.1"/><ellipse cx="211.0" cy="763.0" rx="5.8" ry="4.4" fill="#1a1a1a"/>
<ellipse cx="177.0" cy="774.5" rx="8.4" ry="7.7" fill="#fff" stroke="#1a1a1a" stroke-width="2.1"/><ellipse cx="177.0" cy="774.5" rx="5.8" ry="4.4" fill="#1a1a1a"/>
<ellipse cx="205.0" cy="787.0" rx="8.4" ry="7.7" fill="#fff" stroke="#1a1a1a" stroke-width="2.1"/><ellipse cx="205.0" cy="787.0" rx="5.8" ry="4.4" fill="#1a1a1a"/>
<ellipse cx="182.0" cy="799.0" rx="8.4" ry="7.7" fill="#fff" stroke="#1a1a1a" stroke-width="2.1"/><ellipse cx="182.0" cy="799.0" rx="5.8" ry="4.4" fill="#1a1a1a"/>
<ellipse cx="224.0" cy="797.5" rx="8.4" ry="7.7" fill="#fff" stroke="#1a1a1a" stroke-width="2.1"/><ellipse cx="224.0" cy="797.5" rx="5.8" ry="4.4" fill="#1a1a1a"/>
<ellipse cx="195.0" cy="815.0" rx="8.4" ry="7.7" fill="#fff" stroke="#1a1a1a" stroke-width="2.1"/><ellipse cx="195.0" cy="815.0" rx="5.8" ry="4.4" fill="#1a1a1a"/>
<ellipse cx="216.0" cy="815.5" rx="8.4" ry="7.7" fill="#fff" stroke="#1a1a1a" stroke-width="2.1"/><ellipse cx="216.0" cy="815.5" rx="5.8" ry="4.4" fill="#1a1a1a"/>
<ellipse cx="177.5" cy="824.5" rx="8.4" ry="7.7" fill="#fff" stroke="#1a1a1a" stroke-width="2.1"/><ellipse cx="177.5" cy="824.5" rx="5.8" ry="4.4" fill="#1a1a1a"/>
<ellipse cx="481.0" cy="762.0" rx="8.4" ry="7.7" fill="#fff" stroke="#1a1a1a" stroke-width="2.1"/><ellipse cx="481.0" cy="762.0" rx="5.8" ry="4.4" fill="#1a1a1a"/>
<polygon points="250.8,360.0 265.6,356.1 269.5,344.2 273.4,356.1 288.2,360.0 273.4,363.9 269.5,375.8 265.6,363.9" fill="#1c8fe0" stroke="#1c8fe0" stroke-width="0.6"/>
<polygon points="163.8,387.5 178.6,383.6 182.5,371.7 186.4,383.6 201.2,387.5 186.4,391.4 182.5,403.3 178.6,391.4" fill="#1c8fe0" stroke="#1c8fe0" stroke-width="0.6"/>
<polygon points="151.3,412.0 166.1,408.1 170.0,396.2 173.9,408.1 188.7,412.0 173.9,415.9 170.0,427.8 166.1,415.9" fill="#1c8fe0" stroke="#1c8fe0" stroke-width="0.6"/>
<polygon points="286.3,436.0 301.1,432.1 305.0,420.2 308.9,432.1 323.7,436.0 308.9,439.9 305.0,451.8 301.1,439.9" fill="#1c8fe0" stroke="#1c8fe0" stroke-width="0.6"/>
<polygon points="110.3,462.0 125.1,458.1 129.0,446.2 132.9,458.1 147.7,462.0 132.9,465.9 129.0,477.8 125.1,465.9" fill="#1c8fe0" stroke="#1c8fe0" stroke-width="0.6"/>
<polygon points="142.3,476.3 157.1,472.4 161.0,460.5 164.9,472.4 179.7,476.3 164.9,480.2 161.0,492.1 157.1,480.2" fill="#1c8fe0" stroke="#1c8fe0" stroke-width="0.6"/>
<polygon points="243.0,464.2 257.8,460.3 261.7,448.4 265.6,460.3 280.4,464.2 265.6,468.1 261.7,480.0 257.8,468.1" fill="#1c8fe0" stroke="#1c8fe0" stroke-width="0.6"/>
<polygon points="221.3,488.0 236.1,484.1 240.0,472.2 243.9,484.1 258.7,488.0 243.9,491.9 240.0,503.8 236.1,491.9" fill="#1c8fe0" stroke="#1c8fe0" stroke-width="0.6"/>
<polygon points="159.3,501.0 174.1,497.1 178.0,485.2 181.9,497.1 196.7,501.0 181.9,504.9 178.0,516.8 174.1,504.9" fill="#1c8fe0" stroke="#1c8fe0" stroke-width="0.6"/>
<polygon points="170.3,529.5 185.1,525.6 189.0,513.7 192.9,525.6 207.7,529.5 192.9,533.4 189.0,545.3 185.1,533.4" fill="#1c8fe0" stroke="#1c8fe0" stroke-width="0.6"/>
<polygon points="146.3,544.0 161.1,540.1 165.0,528.2 168.9,540.1 183.7,544.0 168.9,547.9 165.0,559.8 161.1,547.9" fill="#1c8fe0" stroke="#1c8fe0" stroke-width="0.6"/>
<polygon points="218.8,537.7 233.6,533.8 237.5,521.9 241.4,533.8 256.2,537.7 241.4,541.6 237.5,553.5 233.6,541.6" fill="#1c8fe0" stroke="#1c8fe0" stroke-width="0.6"/>
<polygon points="162.3,566.0 177.1,562.1 181.0,550.2 184.9,562.1 199.7,566.0 184.9,569.9 181.0,581.8 177.1,569.9" fill="#1c8fe0" stroke="#1c8fe0" stroke-width="0.6"/>
<polygon points="120.8,592.0 135.6,588.1 139.5,576.2 143.4,588.1 158.2,592.0 143.4,595.9 139.5,607.8 135.6,595.9" fill="#1c8fe0" stroke="#1c8fe0" stroke-width="0.6"/>
<polygon points="188.8,590.0 203.6,586.1 207.5,574.2 211.4,586.1 226.2,590.0 211.4,593.9 207.5,605.8 203.6,593.9" fill="#1c8fe0" stroke="#1c8fe0" stroke-width="0.6"/>
<polygon points="220.8,599.5 235.6,595.6 239.5,583.7 243.4,595.6 258.2,599.5 243.4,603.4 239.5,615.3 235.6,603.4" fill="#1c8fe0" stroke="#1c8fe0" stroke-width="0.6"/>
<polygon points="135.3,615.0 150.1,611.1 154.0,599.2 157.9,611.1 172.7,615.0 157.9,618.9 154.0,630.8 150.1,618.9" fill="#1c8fe0" stroke="#1c8fe0" stroke-width="0.6"/>
<polygon points="167.3,626.0 182.1,622.1 186.0,610.2 189.9,622.1 204.7,626.0 189.9,629.9 186.0,641.8 182.1,629.9" fill="#1c8fe0" stroke="#1c8fe0" stroke-width="0.6"/>
<polygon points="246.3,626.0 261.1,622.1 265.0,610.2 268.9,622.1 283.7,626.0 268.9,629.9 265.0,641.8 261.1,629.9" fill="#1c8fe0" stroke="#1c8fe0" stroke-width="0.6"/>
<polygon points="221.8,638.0 236.6,634.1 240.5,622.2 244.4,634.1 259.2,638.0 244.4,641.9 240.5,653.8 236.6,641.9" fill="#1c8fe0" stroke="#1c8fe0" stroke-width="0.6"/>
<polygon points="194.3,651.0 209.1,647.1 213.0,635.2 216.9,647.1 231.7,651.0 216.9,654.9 213.0,666.8 209.1,654.9" fill="#1c8fe0" stroke="#1c8fe0" stroke-width="0.6"/>
<polygon points="205.3,679.0 220.1,675.1 224.0,663.2 227.9,675.1 242.7,679.0 227.9,682.9 224.0,694.8 220.1,682.9" fill="#1c8fe0" stroke="#1c8fe0" stroke-width="0.6"/>
<polygon points="458.3,841.0 473.1,837.1 477.0,825.2 480.9,837.1 495.7,841.0 480.9,844.9 477.0,856.8 473.1,844.9" fill="#1c8fe0" stroke="#1c8fe0" stroke-width="0.6"/>
<polygon points="209.6,402.0 224.4,398.1 228.3,386.2 232.2,398.1 247.0,402.0 232.2,405.9 228.3,417.8 224.4,405.9" fill="#e2231a" stroke="#e2231a" stroke-width="0.6"/>
<polygon points="268.5,483.3 283.3,479.4 287.2,467.5 291.1,479.4 305.9,483.3 291.1,487.2 287.2,499.1 283.3,487.2" fill="#e2231a" stroke="#e2231a" stroke-width="0.6"/>
<polygon points="257.6,528.3 272.4,524.4 276.3,512.5 280.2,524.4 295.0,528.3 280.2,532.2 276.3,544.1 272.4,532.2" fill="#e2231a" stroke="#e2231a" stroke-width="0.6"/>
<polygon points="227.3,562.0 242.1,558.1 246.0,546.2 249.9,558.1 264.7,562.0 249.9,565.9 246.0,577.8 242.1,565.9" fill="#e2231a" stroke="#e2231a" stroke-width="0.6"/>
<polygon points="243.3,682.5 258.1,678.6 262.0,666.7 265.9,678.6 280.7,682.5 265.9,686.4 262.0,698.3 258.1,686.4" fill="#e2231a" stroke="#e2231a" stroke-width="0.6"/>
<polygon points="172.3,694.0 187.1,690.1 191.0,678.2 194.9,690.1 209.7,694.0 194.9,697.9 191.0,709.8 187.1,697.9" fill="#e2231a" stroke="#e2231a" stroke-width="0.6"/>
<polygon points="339.3,842.0 354.1,838.1 358.0,826.2 361.9,838.1 376.7,842.0 361.9,845.9 358.0,857.8 354.1,845.9" fill="#e2231a" stroke="#e2231a" stroke-width="0.6"/>
<rect x="300.0" y="741.0" width="115.0" height="41.5" fill="#fff" stroke="#2a2a2a" stroke-width="1.8"/>
<rect x="421.0" y="739.5" width="115.0" height="42.5" fill="#fff" stroke="#2a2a2a" stroke-width="1.8"/>
<rect x="544.0" y="739.0" width="115.5" height="43.0" fill="#fff" stroke="#2a2a2a" stroke-width="1.8"/>
<rect x="300.0" y="821.0" width="115.0" height="41.5" fill="#fff" stroke="#2a2a2a" stroke-width="1.8"/>
<rect x="422.0" y="821.0" width="115.0" height="41.5" fill="#fff" stroke="#2a2a2a" stroke-width="1.8"/>
<polygon points="451.0,841.0 472.4,836.4 477.0,821.5 481.6,836.4 503.0,841.0 481.6,845.6 477.0,860.5 472.4,845.6" fill="#1c8fe0" stroke="#1c8fe0" stroke-width="0.6"/>
<polygon points="332.0,842.0 353.4,837.4 358.0,822.5 362.6,837.4 384.0,842.0 362.6,846.6 358.0,861.5 353.4,846.6" fill="#e2231a" stroke="#e2231a" stroke-width="0.6"/>
<ellipse cx="481.0" cy="762.0" rx="8.4" ry="7.7" fill="#fff" stroke="#1a1a1a" stroke-width="2.1"/><ellipse cx="481.0" cy="762.0" rx="5.8" ry="4.4" fill="#1a1a1a"/>
<ellipse cx="604.5" cy="761.0" rx="8.5" ry="8.0" fill="#fff" stroke="#e2231a" stroke-width="1.8"/><ellipse cx="604.5" cy="761.0" rx="5.8" ry="4.3" fill="#e2231a"/>
<path d="M310.0 752.5 L330.0 759.0" fill="none" stroke="#1a1a1a" stroke-width="1.8" stroke-linejoin="round" />
<path d="M343.1 755.8 L340.9 764.2 M337.8 758.9 L346.2 761.1" stroke="#1a1a1a" stroke-width="2.3" fill="none"/>
<path d="M353.0 763.0 L374.5 767.0" fill="none" stroke="#1a1a1a" stroke-width="1.8" stroke-linejoin="round" />
<path d="M389.9 763.3 L388.1 771.7 M384.8 766.6 L393.2 768.4" stroke="#1a1a1a" stroke-width="2.3" fill="none"/>
<text x="235.6" y="116.7" font-size="27" text-anchor="middle" letter-spacing="0.90" transform="rotate(-32 235.2 107.0)" >芦村煤矿<tspan dx="6">整合矿区</tspan></text>
<text x="268.4" y="138.4" font-size="27" letter-spacing="1.72" >芦村二号煤矿</text>
<text x="73.1" y="205.7" font-size="27" letter-spacing="0.38" >芦村一号煤矿</text>
<text x="134.1" y="235.7" font-size="27" letter-spacing="1.95" >先期开</text>
<text x="133.1" y="272.7" font-size="27" letter-spacing="1.45" >采地段</text>
<text x="337.1" y="194.7" font-size="27" letter-spacing="1.45" >先期开</text>
<text x="336.1" y="225.2" font-size="27" letter-spacing="1.95" >采地段</text>
<text x="227.1" y="275.2" font-size="27" letter-spacing="1.73" >党家河煤矿整合区</text>
<text x="539.0" y="165.9" font-size="27" text-anchor="middle" >四</text>
<text x="539.0" y="195.2" font-size="27" text-anchor="middle" >家</text>
<text x="539.0" y="225.2" font-size="27" text-anchor="middle" >岔</text>
<text x="539.0" y="255.7" font-size="27" text-anchor="middle" >井</text>
<text x="539.0" y="285.7" font-size="27" text-anchor="middle" >田</text>
<text x="473.0" y="325.7" font-size="27" text-anchor="middle" >一</text>
<text x="473.0" y="363.7" font-size="27" text-anchor="middle" >号</text>
<text x="473.0" y="402.2" font-size="27" text-anchor="middle" >煤</text>
<text x="473.0" y="434.7" font-size="27" text-anchor="middle" >矿</text>
<text x="207.5" y="429.7" font-size="27" text-anchor="middle" >二</text>
<text x="207.5" y="472.2" font-size="27" text-anchor="middle" >号</text>
<text x="207.5" y="521.7" font-size="27" text-anchor="middle" >煤</text>
<text x="207.5" y="563.2" font-size="27" text-anchor="middle" >矿</text>
<text x="616.0" y="432.2" font-size="27" text-anchor="middle" >仓</text>
<text x="616.0" y="468.2" font-size="27" text-anchor="middle" >村</text>
<text x="616.0" y="507.7" font-size="27" text-anchor="middle" >煤</text>
<text x="616.0" y="542.7" font-size="27" text-anchor="middle" >矿</text>
<text x="339.5" y="574.7" font-size="27" text-anchor="middle" >双</text>
<text x="339.5" y="612.2" font-size="27" text-anchor="middle" >龙</text>
<text x="339.5" y="649.7" font-size="27" text-anchor="middle" >煤</text>
<text x="339.5" y="683.7" font-size="27" text-anchor="middle" >矿</text>
<text x="356.1" y="587.5" font-size="27" letter-spacing="0.58" >小煤矿分布区</text>
<text x="376.1" y="659.7" font-size="27" letter-spacing="1.72" >红石岩煤矿</text>
<text x="299.1" y="812.2" font-size="27" letter-spacing="2.30" >井田界线</text>
<text x="422.1" y="812.2" font-size="27" letter-spacing="-0.70" >已有勘点</text>
<text x="531.1" y="812.2" font-size="27" letter-spacing="0.22" >油井资料点</text>
<text x="276.6" y="888.2" font-size="27" letter-spacing="0.10" >地面工程点</text>
<text x="420.1" y="888.2" font-size="27" letter-spacing="0.10" >井下工程点</text>
<text x="227.5" y="954.5" font-size="27">(a)</text>
<text x="274.5" y="954.2" font-size="27.5" letter-spacing="1.24" font-weight="400">钻孔资料收集点分布</text>
<text x="915" y="954.5" font-size="27">(b)</text>
<text x="964.6" y="954.0" font-size="27" letter-spacing="1.82" font-weight="400">围岩气储集层探测结果</text>
<rect x="1169.1" y="152.0" width="82.5" height="45.0" fill="#ffff00"/>
<rect x="1169.1" y="197.0" width="82.5" height="50.5" fill="#ffff00"/>
<rect x="1169.1" y="573.0" width="82.5" height="44.0" fill="#ffff00"/>
<rect x="1169.1" y="789.0" width="82.5" height="35.0" fill="#ffff00"/>
<rect x="1169.1" y="857.0" width="82.5" height="38.5" fill="#ffff00"/>
<rect x="1169.1" y="639.0" width="82.5" height="23.0" fill="#808080"/>
<rect x="1169.1" y="705.5" width="82.5" height="34.5" fill="#808080"/>
<path d="M752.9 17.0 L1379.1 17.0" stroke="#0a0a0a" stroke-width="2.1" fill="none"/>
<path d="M753.0 896.1 L1379.1 896.1" stroke="#222" stroke-width="1.8" fill="none"/>
<path d="M753.6 17.0 L753.6 896.1" stroke="#111" stroke-width="1.4" fill="none"/>
<path d="M1378.5 17.0 L1378.5 896.1" stroke="#1a1a1a" stroke-width="1.3" fill="none"/>
<path d="M897.7 17.0 L897.7 896.1" stroke="#202020" stroke-width="1.3" fill="none"/>
<path d="M957.7 247.5 L957.7 751.0" stroke="#202020" stroke-width="1.3" fill="none"/>
<path d="M1018.7 17.0 L1018.7 896.1" stroke="#202020" stroke-width="1.3" fill="none"/>
<path d="M1169.1 17.0 L1169.1 896.1" stroke="#444" stroke-width="1.4" fill="none"/>
<path d="M1251.6 17.0 L1251.6 896.1" stroke="#202020" stroke-width="1.3" fill="none"/>
<path d="M753.6 70.4 L1018.7 70.4" stroke="#202020" stroke-width="1.3" fill="none"/>
<path d="M753.6 123.7 L1378.5 123.7" stroke="#202020" stroke-width="1.3" fill="none"/>
<path d="M1018.7 152.3 L1378.5 152.3" stroke="#202020" stroke-width="1.3" fill="none"/>
<path d="M1169.1 197.3 L1378.5 197.3" stroke="#202020" stroke-width="1.3" fill="none"/>
<path d="M897.7 247.8 L1378.5 247.8" stroke="#202020" stroke-width="1.3" fill="none"/>
<path d="M1169.1 277.5 L1378.5 277.5" stroke="#202020" stroke-width="1.3" fill="none"/>
<path d="M957.7 307.5 L1378.5 307.5" stroke="#202020" stroke-width="1.3" fill="none"/>
<path d="M1169.1 337.5 L1378.5 337.5" stroke="#202020" stroke-width="1.3" fill="none"/>
<path d="M1169.1 381.0 L1378.5 381.0" stroke="#202020" stroke-width="1.3" fill="none"/>
<path d="M957.7 420.0 L1378.5 420.0" stroke="#202020" stroke-width="1.3" fill="none"/>
<path d="M1169.1 484.0 L1251.0 484.0 L1257.5 461.0 L1378.5 461.0" stroke="#202020" stroke-width="1.3" fill="none"/>
<path d="M1169.1 508.0 L1251.6 508.0 L1257.5 495.5 L1378.5 495.5" stroke="#202020" stroke-width="1.3" fill="none"/>
<path d="M1169.1 522.0 L1378.5 522.0" stroke="#202020" stroke-width="1.3" fill="none"/>
<path d="M1018.7 537.0 L1157.5 537.0 L1169.1 551.0 L1378.5 551.0" stroke="#202020" stroke-width="1.3" fill="none"/>
<path d="M1018.7 573.0 L1251.6 573.0 L1257.5 581.0 L1378.5 581.0" stroke="#202020" stroke-width="1.3" fill="none"/>
<path d="M957.7 617.0 L1378.5 617.0" stroke="#202020" stroke-width="1.3" fill="none"/>
<path d="M1018.7 639.0 L1251.6 639.0 L1259.0 652.0 L1378.5 652.0" stroke="#202020" stroke-width="1.3" fill="none"/>
<path d="M1018.7 673.0 L1161.0 673.0 L1169.1 662.0 L1251.6 662.0 L1260.0 684.0 L1378.5 684.0" stroke="#202020" stroke-width="1.3" fill="none"/>
<path d="M1018.7 695.5 L1162.5 695.5 L1169.1 705.5 L1251.6 705.5 L1259.0 722.5 L1378.5 722.5" stroke="#202020" stroke-width="1.3" fill="none"/>
<path d="M1018.7 730.0 L1162.0 730.0 L1169.1 740.0 L1251.6 740.0 L1257.5 760.0 L1378.5 760.0" stroke="#202020" stroke-width="1.3" fill="none"/>
<path d="M753.6 751.6 L1251.6 751.6" stroke="#202020" stroke-width="1.3" fill="none"/>
<path d="M1018.7 789.0 L1378.5 789.0" stroke="#202020" stroke-width="1.3" fill="none"/>
<path d="M753.6 824.6 L897.7 824.6" stroke="#8a8a8a" stroke-width="0.8" fill="none"/>
<path d="M897.7 824.6 L1018.7 824.6" stroke="#777" stroke-width="0.8" stroke-dasharray="1.4 1.4" fill="none"/>
<path d="M1018.7 824.6 L1169.1 824.6" stroke="#a0a0a0" stroke-width="0.8" fill="none"/>
<path d="M1251.6 824.6 L1378.5 824.6" stroke="#a0a0a0" stroke-width="0.8" fill="none"/>
<path d="M1018.7 857.0 L1378.5 857.0" stroke="#202020" stroke-width="1.3" fill="none"/>
<path d="M1185.0 138.5 L1194.0 138.5" stroke="#222" stroke-width="1.1" fill="none"/>
<path d="M1206.0 138.5 L1215.0 138.5" stroke="#222" stroke-width="1.1" fill="none"/>
<path d="M1227.0 138.5 L1236.0 138.5" stroke="#222" stroke-width="1.1" fill="none"/>
<rect x="1178.6" y="173.8" width="1.5" height="1.7" fill="#1a1a1a"/>
<rect x="1182.6" y="173.8" width="1.5" height="1.7" fill="#1a1a1a"/>
<rect x="1186.6" y="173.8" width="1.5" height="1.7" fill="#1a1a1a"/>
<rect x="1204.6" y="173.8" width="1.5" height="1.7" fill="#1a1a1a"/>
<rect x="1208.6" y="173.8" width="1.5" height="1.7" fill="#1a1a1a"/>
<rect x="1212.6" y="173.8" width="1.5" height="1.7" fill="#1a1a1a"/>
<rect x="1230.8" y="173.8" width="1.5" height="1.7" fill="#1a1a1a"/>
<rect x="1234.8" y="173.8" width="1.5" height="1.7" fill="#1a1a1a"/>
<rect x="1238.8" y="173.8" width="1.5" height="1.7" fill="#1a1a1a"/>
<rect x="1189.0" y="221.8" width="1.5" height="1.7" fill="#1a1a1a"/>
<rect x="1193.0" y="221.8" width="1.5" height="1.7" fill="#1a1a1a"/>
<rect x="1207.5" y="221.8" width="1.5" height="1.7" fill="#1a1a1a"/>
<rect x="1211.5" y="221.8" width="1.5" height="1.7" fill="#1a1a1a"/>
<rect x="1226.0" y="221.8" width="1.5" height="1.7" fill="#1a1a1a"/>
<rect x="1230.0" y="221.8" width="1.5" height="1.7" fill="#1a1a1a"/>
<path d="M1185.0 263.5 L1194.0 263.5" stroke="#222" stroke-width="1.1" fill="none"/>
<path d="M1206.0 263.5 L1215.0 263.5" stroke="#222" stroke-width="1.1" fill="none"/>
<path d="M1227.0 263.5 L1236.0 263.5" stroke="#222" stroke-width="1.1" fill="none"/>
<rect x="1177.5" y="292.8" width="1.5" height="1.7" fill="#1a1a1a"/>
<rect x="1181.5" y="292.8" width="1.5" height="1.7" fill="#1a1a1a"/>
<rect x="1185.5" y="292.8" width="1.5" height="1.7" fill="#1a1a1a"/>
<rect x="1189.5" y="292.8" width="1.5" height="1.7" fill="#1a1a1a"/>
<rect x="1204.0" y="292.8" width="1.5" height="1.7" fill="#1a1a1a"/>
<rect x="1208.0" y="292.8" width="1.5" height="1.7" fill="#1a1a1a"/>
<rect x="1212.0" y="292.8" width="1.5" height="1.7" fill="#1a1a1a"/>
<rect x="1216.0" y="292.8" width="1.5" height="1.7" fill="#1a1a1a"/>
<rect x="1229.5" y="292.8" width="1.5" height="1.7" fill="#1a1a1a"/>
<rect x="1233.5" y="292.8" width="1.5" height="1.7" fill="#1a1a1a"/>
<rect x="1237.5" y="292.8" width="1.5" height="1.7" fill="#1a1a1a"/>
<rect x="1241.5" y="292.8" width="1.5" height="1.7" fill="#1a1a1a"/>
<path d="M1185.0 322.5 L1194.0 322.5" stroke="#222" stroke-width="1.1" fill="none"/>
<path d="M1206.0 322.5 L1215.0 322.5" stroke="#222" stroke-width="1.1" fill="none"/>
<path d="M1227.0 322.5 L1236.0 322.5" stroke="#222" stroke-width="1.1" fill="none"/>
<rect x="1177.5" y="358.8" width="1.5" height="1.7" fill="#1a1a1a"/>
<rect x="1181.5" y="358.8" width="1.5" height="1.7" fill="#1a1a1a"/>
<rect x="1185.5" y="358.8" width="1.5" height="1.7" fill="#1a1a1a"/>
<rect x="1189.5" y="358.8" width="1.5" height="1.7" fill="#1a1a1a"/>
<rect x="1204.0" y="358.8" width="1.5" height="1.7" fill="#1a1a1a"/>
<rect x="1208.0" y="358.8" width="1.5" height="1.7" fill="#1a1a1a"/>
<rect x="1212.0" y="358.8" width="1.5" height="1.7" fill="#1a1a1a"/>
<rect x="1216.0" y="358.8" width="1.5" height="1.7" fill="#1a1a1a"/>
<rect x="1229.5" y="358.8" width="1.5" height="1.7" fill="#1a1a1a"/>
<rect x="1233.5" y="358.8" width="1.5" height="1.7" fill="#1a1a1a"/>
<rect x="1237.5" y="358.8" width="1.5" height="1.7" fill="#1a1a1a"/>
<rect x="1241.5" y="358.8" width="1.5" height="1.7" fill="#1a1a1a"/>
<rect x="1178.6" y="401.8" width="1.5" height="1.7" fill="#1a1a1a"/>
<rect x="1182.6" y="401.8" width="1.5" height="1.7" fill="#1a1a1a"/>
<rect x="1186.6" y="401.8" width="1.5" height="1.7" fill="#1a1a1a"/>
<rect x="1204.6" y="401.8" width="1.5" height="1.7" fill="#1a1a1a"/>
<rect x="1208.6" y="401.8" width="1.5" height="1.7" fill="#1a1a1a"/>
<rect x="1212.6" y="401.8" width="1.5" height="1.7" fill="#1a1a1a"/>
<rect x="1230.8" y="401.8" width="1.5" height="1.7" fill="#1a1a1a"/>
<rect x="1234.8" y="401.8" width="1.5" height="1.7" fill="#1a1a1a"/>
<rect x="1238.8" y="401.8" width="1.5" height="1.7" fill="#1a1a1a"/>
<path d="M1185.0 436.5 L1194.0 436.5" stroke="#444" stroke-width="1.1" fill="none"/>
<path d="M1206.0 436.5 L1215.0 436.5" stroke="#444" stroke-width="1.1" fill="none"/>
<path d="M1227.0 436.5 L1236.0 436.5" stroke="#444" stroke-width="1.1" fill="none"/>
<path d="M1192.0 454.5 L1201.0 454.5" stroke="#222" stroke-width="1.1" fill="none"/>
<path d="M1214.0 454.5 L1223.0 454.5" stroke="#222" stroke-width="1.1" fill="none"/>
<path d="M1185.0 474.5 L1194.0 474.5" stroke="#222" stroke-width="1.1" fill="none"/>
<path d="M1206.0 474.5 L1215.0 474.5" stroke="#222" stroke-width="1.1" fill="none"/>
<path d="M1227.0 474.5 L1236.0 474.5" stroke="#222" stroke-width="1.1" fill="none"/>
<rect x="1178.6" y="495.8" width="1.5" height="1.7" fill="#1a1a1a"/>
<rect x="1182.6" y="495.8" width="1.5" height="1.7" fill="#1a1a1a"/>
<rect x="1186.6" y="495.8" width="1.5" height="1.7" fill="#1a1a1a"/>
<rect x="1204.6" y="495.8" width="1.5" height="1.7" fill="#1a1a1a"/>
<rect x="1208.6" y="495.8" width="1.5" height="1.7" fill="#1a1a1a"/>
<rect x="1212.6" y="495.8" width="1.5" height="1.7" fill="#1a1a1a"/>
<rect x="1230.8" y="495.8" width="1.5" height="1.7" fill="#1a1a1a"/>
<rect x="1234.8" y="495.8" width="1.5" height="1.7" fill="#1a1a1a"/>
<rect x="1238.8" y="495.8" width="1.5" height="1.7" fill="#1a1a1a"/>
<path d="M1185.0 515.5 L1194.0 515.5" stroke="#222" stroke-width="1.1" fill="none"/>
<path d="M1206.0 515.5 L1215.0 515.5" stroke="#222" stroke-width="1.1" fill="none"/>
<path d="M1227.0 515.5 L1236.0 515.5" stroke="#222" stroke-width="1.1" fill="none"/>
<rect x="1178.6" y="536.8" width="1.5" height="1.7" fill="#1a1a1a"/>
<rect x="1182.6" y="536.8" width="1.5" height="1.7" fill="#1a1a1a"/>
<rect x="1186.6" y="536.8" width="1.5" height="1.7" fill="#1a1a1a"/>
<rect x="1204.6" y="536.8" width="1.5" height="1.7" fill="#1a1a1a"/>
<rect x="1208.6" y="536.8" width="1.5" height="1.7" fill="#1a1a1a"/>
<rect x="1212.6" y="536.8" width="1.5" height="1.7" fill="#1a1a1a"/>
<rect x="1230.8" y="536.8" width="1.5" height="1.7" fill="#1a1a1a"/>
<rect x="1234.8" y="536.8" width="1.5" height="1.7" fill="#1a1a1a"/>
<rect x="1238.8" y="536.8" width="1.5" height="1.7" fill="#1a1a1a"/>
<path d="M1185.0 562.5 L1194.0 562.5" stroke="#555" stroke-width="1.1" fill="none"/>
<path d="M1206.0 562.5 L1215.0 562.5" stroke="#555" stroke-width="1.1" fill="none"/>
<path d="M1227.0 562.5 L1236.0 562.5" stroke="#555" stroke-width="1.1" fill="none"/>
<rect x="1178.6" y="596.8" width="1.5" height="1.7" fill="#1a1a1a"/>
<rect x="1182.6" y="596.8" width="1.5" height="1.7" fill="#1a1a1a"/>
<rect x="1186.6" y="596.8" width="1.5" height="1.7" fill="#1a1a1a"/>
<rect x="1204.6" y="596.8" width="1.5" height="1.7" fill="#1a1a1a"/>
<rect x="1208.6" y="596.8" width="1.5" height="1.7" fill="#1a1a1a"/>
<rect x="1212.6" y="596.8" width="1.5" height="1.7" fill="#1a1a1a"/>
<rect x="1230.8" y="596.8" width="1.5" height="1.7" fill="#1a1a1a"/>
<rect x="1234.8" y="596.8" width="1.5" height="1.7" fill="#1a1a1a"/>
<rect x="1238.8" y="596.8" width="1.5" height="1.7" fill="#1a1a1a"/>
<rect x="1177.5" y="626.8" width="1.5" height="1.7" fill="#1a1a1a"/>
<rect x="1181.5" y="626.8" width="1.5" height="1.7" fill="#1a1a1a"/>
<rect x="1185.5" y="626.8" width="1.5" height="1.7" fill="#1a1a1a"/>
<rect x="1189.5" y="626.8" width="1.5" height="1.7" fill="#1a1a1a"/>
<rect x="1204.0" y="626.8" width="1.5" height="1.7" fill="#1a1a1a"/>
<rect x="1208.0" y="626.8" width="1.5" height="1.7" fill="#1a1a1a"/>
<rect x="1212.0" y="626.8" width="1.5" height="1.7" fill="#1a1a1a"/>
<rect x="1216.0" y="626.8" width="1.5" height="1.7" fill="#1a1a1a"/>
<rect x="1229.5" y="626.8" width="1.5" height="1.7" fill="#1a1a1a"/>
<rect x="1233.5" y="626.8" width="1.5" height="1.7" fill="#1a1a1a"/>
<rect x="1237.5" y="626.8" width="1.5" height="1.7" fill="#1a1a1a"/>
<rect x="1241.5" y="626.8" width="1.5" height="1.7" fill="#1a1a1a"/>
<rect x="1178.6" y="685.8" width="1.5" height="1.7" fill="#1a1a1a"/>
<rect x="1182.6" y="685.8" width="1.5" height="1.7" fill="#1a1a1a"/>
<rect x="1186.6" y="685.8" width="1.5" height="1.7" fill="#1a1a1a"/>
<rect x="1204.6" y="685.8" width="1.5" height="1.7" fill="#1a1a1a"/>
<rect x="1208.6" y="685.8" width="1.5" height="1.7" fill="#1a1a1a"/>
<rect x="1212.6" y="685.8" width="1.5" height="1.7" fill="#1a1a1a"/>
<rect x="1230.8" y="685.8" width="1.5" height="1.7" fill="#1a1a1a"/>
<rect x="1234.8" y="685.8" width="1.5" height="1.7" fill="#1a1a1a"/>
<rect x="1238.8" y="685.8" width="1.5" height="1.7" fill="#1a1a1a"/>
<path d="M1185.0 746.5 L1194.0 746.5" stroke="#222" stroke-width="1.1" fill="none"/>
<path d="M1206.0 746.5 L1215.0 746.5" stroke="#222" stroke-width="1.1" fill="none"/>
<path d="M1227.0 746.5 L1236.0 746.5" stroke="#222" stroke-width="1.1" fill="none"/>
<path d="M1185.0 772.5 L1194.0 772.5" stroke="#222" stroke-width="1.1" fill="none"/>
<path d="M1206.0 772.5 L1215.0 772.5" stroke="#222" stroke-width="1.1" fill="none"/>
<path d="M1227.0 772.5 L1236.0 772.5" stroke="#222" stroke-width="1.1" fill="none"/>
<rect x="1178.6" y="805.8" width="1.5" height="1.7" fill="#1a1a1a"/>
<rect x="1182.6" y="805.8" width="1.5" height="1.7" fill="#1a1a1a"/>
<rect x="1186.6" y="805.8" width="1.5" height="1.7" fill="#1a1a1a"/>
<rect x="1204.6" y="805.8" width="1.5" height="1.7" fill="#1a1a1a"/>
<rect x="1208.6" y="805.8" width="1.5" height="1.7" fill="#1a1a1a"/>
<rect x="1212.6" y="805.8" width="1.5" height="1.7" fill="#1a1a1a"/>
<rect x="1230.8" y="805.8" width="1.5" height="1.7" fill="#1a1a1a"/>
<rect x="1234.8" y="805.8" width="1.5" height="1.7" fill="#1a1a1a"/>
<rect x="1238.8" y="805.8" width="1.5" height="1.7" fill="#1a1a1a"/>
<path d="M1185.0 840.5 L1194.0 840.5" stroke="#444" stroke-width="1.1" fill="none"/>
<path d="M1206.0 840.5 L1215.0 840.5" stroke="#444" stroke-width="1.1" fill="none"/>
<path d="M1227.0 840.5 L1236.0 840.5" stroke="#444" stroke-width="1.1" fill="none"/>
<rect x="1178.6" y="878.8" width="1.5" height="1.7" fill="#1a1a1a"/>
<rect x="1182.6" y="878.8" width="1.5" height="1.7" fill="#1a1a1a"/>
<rect x="1186.6" y="878.8" width="1.5" height="1.7" fill="#1a1a1a"/>
<rect x="1204.6" y="878.8" width="1.5" height="1.7" fill="#1a1a1a"/>
<rect x="1208.6" y="878.8" width="1.5" height="1.7" fill="#1a1a1a"/>
<rect x="1212.6" y="878.8" width="1.5" height="1.7" fill="#1a1a1a"/>
<rect x="1230.8" y="878.8" width="1.5" height="1.7" fill="#1a1a1a"/>
<rect x="1234.8" y="878.8" width="1.5" height="1.7" fill="#1a1a1a"/>
<rect x="1238.8" y="878.8" width="1.5" height="1.7" fill="#1a1a1a"/>
<text x="820.5" y="55.6" font-size="28" text-anchor="middle" >地层</text>
<text x="957.0" y="54.6" font-size="28" text-anchor="middle" >单位</text>
<text x="819.3" y="107.6" font-size="28" text-anchor="middle" >系统</text>
<text x="958.0" y="106.6" font-size="28" text-anchor="middle" >组</text>
<text x="1091.0" y="67.1" font-size="28" text-anchor="middle" >类</text>
<text x="1091.0" y="95.6" font-size="28" text-anchor="middle" >别</text>
<text x="1210.0" y="63.6" font-size="28" text-anchor="middle" >综合</text>
<text x="1210.0" y="98.6" font-size="28" text-anchor="middle" >柱状</text>
<text x="1320.0" y="79.6" font-size="28" text-anchor="middle" letter-spacing="0.30" >岩性</text>
<text x="960.5" y="175.6" font-size="28" text-anchor="middle" >直罗组</text>
<text x="828.0" y="266.1" font-size="28" text-anchor="middle" >侏</text>
<text x="828.0" y="339.1" font-size="28" text-anchor="middle" >罗</text>
<text x="828.0" y="410.1" font-size="28" text-anchor="middle" >系</text>
<text x="828.0" y="484.1" font-size="28" text-anchor="middle" >中</text>
<text x="828.0" y="555.1" font-size="28" text-anchor="middle" >统</text>
<text x="927.0" y="356.1" font-size="28" text-anchor="middle" >延</text>
<text x="927.0" y="444.1" font-size="28" text-anchor="middle" >安</text>
<text x="927.0" y="529.1" font-size="28" text-anchor="middle" >组</text>
<text x="987.0" y="273.6" font-size="28" text-anchor="middle" >延四</text>
<text x="988.0" y="302.1" font-size="28" text-anchor="middle" >段</text>
<text x="988.0" y="344.1" font-size="28" text-anchor="middle" >延</text>
<text x="988.0" y="372.6" font-size="28" text-anchor="middle" >三</text>
<text x="988.0" y="401.1" font-size="28" text-anchor="middle" >段</text>
<text x="988.0" y="469.1" font-size="28" text-anchor="middle" >延</text>
<text x="988.0" y="529.1" font-size="28" text-anchor="middle" >二</text>
<text x="988.0" y="584.1" font-size="28" text-anchor="middle" >段</text>
<text x="988.0" y="650.1" font-size="28" text-anchor="middle" >延</text>
<text x="988.0" y="692.6" font-size="28" text-anchor="middle" >一</text>
<text x="988.0" y="734.1" font-size="28" text-anchor="middle" >段</text>
<text x="825.2" y="780.1" font-size="28" text-anchor="middle" >侏罗系</text>
<text x="825.2" y="816.4" font-size="28" text-anchor="middle" >下统</text>
<text x="822.7" y="853.4" font-size="28" text-anchor="middle" >三叠系</text>
<text x="823.2" y="889.4" font-size="28" text-anchor="middle" >上统</text>
<text x="953.6" y="780.6" font-size="28" text-anchor="middle" >富县组</text>
<text x="958.6" y="856.8" font-size="28" text-anchor="middle" >瓦窑堡组</text>
<text x="960.0" y="211.1" font-size="27" text-anchor="middle">J<tspan font-size="16.74" dy="5">2</tspan><tspan dy="-5" font-style="italic">z</tspan></text>
<text x="927.5" y="592.1" font-size="27" text-anchor="middle">J<tspan font-size="16.74" dy="5">2</tspan><tspan dy="-5" font-style="italic">y</tspan></text>
<text x="954.0" y="813.1" font-size="27" text-anchor="middle">J<tspan font-size="16.74" dy="5">1</tspan><tspan dy="-5" font-style="italic">f</tspan></text>
<text x="959.0" y="886.1" font-size="27" text-anchor="middle">T<tspan font-size="16.74" dy="5">3</tspan><tspan dy="-5" font-style="italic">w</tspan></text>
<text x="1095.0" y="148.6" font-size="28" text-anchor="middle" >盖层</text>
<text x="1095.0" y="209.6" font-size="28" text-anchor="middle" >储集层</text>
<text x="1090.0" y="565.6" font-size="28" text-anchor="middle" >盖层</text>
<text x="1093.0" y="607.1" font-size="28" text-anchor="middle" >储集层</text>
<text x="1093.0" y="665.6" font-size="28" text-anchor="middle" >储集层</text>
<text x="1093.0" y="722.1" font-size="28" text-anchor="middle" >储集层</text>
<text x="1094.0" y="782.1" font-size="28" text-anchor="middle" >盖层</text>
<text x="1093.0" y="817.1" font-size="28" text-anchor="middle" >储集层</text>
<text x="1094.0" y="849.6" font-size="28" text-anchor="middle" >盖层</text>
<text x="1093.0" y="884.6" font-size="28" text-anchor="middle" >储集层</text>
<text x="1317.0" y="147.6" font-size="28" text-anchor="middle" >泥岩</text>
<text x="1316.1" y="184.1" font-size="28" text-anchor="middle" letter-spacing="0.20" >细粒砂岩</text>
<text x="1316.1" y="232.6" font-size="28" text-anchor="middle" letter-spacing="0.20" >中粒砂岩</text>
<text x="1317.0" y="274.1" font-size="28" text-anchor="middle" >泥岩</text>
<text x="1317.2" y="302.6" font-size="28" text-anchor="middle" letter-spacing="0.30" >粉砂岩</text>
<text x="1317.0" y="332.6" font-size="28" text-anchor="middle" >泥岩</text>
<text x="1317.2" y="369.1" font-size="28" text-anchor="middle" letter-spacing="0.30" >粉砂岩</text>
<text x="1316.1" y="411.1" font-size="28" text-anchor="middle" letter-spacing="0.20" >细粒砂岩</text>
<text x="1315.0" y="450.7" font-size="28" text-anchor="middle" >泥岩</text>
<text x="1317.3" y="489.1" font-size="28" text-anchor="middle" letter-spacing="0.20" >细粒砂岩</text>
<text x="1315.5" y="519.1" font-size="28" text-anchor="middle" >泥岩</text>
<text x="1313.4" y="547.6" font-size="28" text-anchor="middle" letter-spacing="0.20" >细粒沙岩</text>
<text x="1313.8" y="577.4" font-size="28" text-anchor="middle" >泥岩</text>
<text x="1316.1" y="610.1" font-size="28" text-anchor="middle" letter-spacing="0.20" >细粒砂岩</text>
<text x="1317.2" y="645.1" font-size="28" text-anchor="middle" letter-spacing="0.30" >粉砂岩</text>
<text x="1316.1" y="677.6" font-size="28" text-anchor="middle" letter-spacing="0.20" >2号煤层</text>
<text x="1316.1" y="712.6" font-size="28" text-anchor="middle" letter-spacing="0.20" >细粒砂岩</text>
<text x="1316.1" y="752.1" font-size="28" text-anchor="middle" letter-spacing="0.20" >3号煤层</text>
<text x="1317.0" y="785.1" font-size="28" text-anchor="middle" >泥岩</text>
<text x="1316.1" y="819.1" font-size="28" text-anchor="middle" letter-spacing="0.20" >细粒砂岩</text>
<text x="1317.0" y="851.1" font-size="28" text-anchor="middle" >泥岩</text>
<text x="1316.1" y="887.6" font-size="28" text-anchor="middle" letter-spacing="0.20" >细粒砂岩</text>
</svg>
</body></html>
